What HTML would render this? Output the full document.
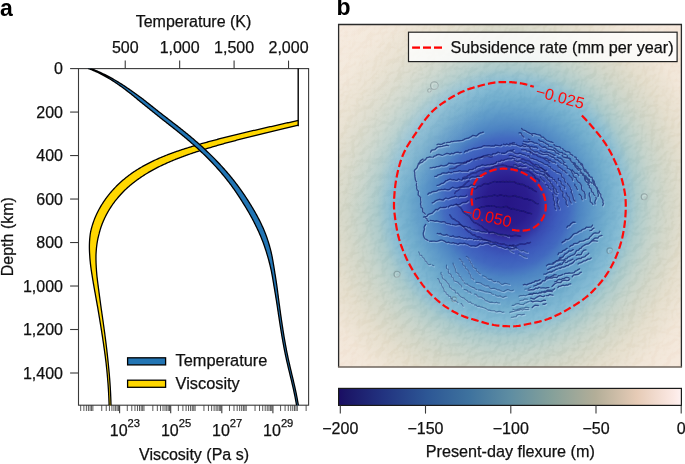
<!DOCTYPE html>
<html><head><meta charset="utf-8"><style>
html,body{margin:0;padding:0;background:#fff;}
svg{display:block;will-change:transform;}
</style></head><body>
<svg width="685" height="464" viewBox="0 0 685 464">
<rect width="685" height="464" fill="#fff"/>
<g stroke="#3a3a3a" stroke-width="1.1" fill="none">
<rect x="78.5" y="68.6" width="230.10000000000002" height="336.6"/>
<line x1="125.23" y1="68.6" x2="125.23" y2="60.599999999999994"/>
<line x1="179.66" y1="68.6" x2="179.66" y2="60.599999999999994"/>
<line x1="234.09" y1="68.6" x2="234.09" y2="60.599999999999994"/>
<line x1="288.52" y1="68.6" x2="288.52" y2="60.599999999999994"/>
<line x1="78.5" y1="68.58" x2="70.1" y2="68.58"/>
<line x1="78.5" y1="112.07" x2="70.1" y2="112.07"/>
<line x1="78.5" y1="155.56" x2="70.1" y2="155.56"/>
<line x1="78.5" y1="199.04" x2="70.1" y2="199.04"/>
<line x1="78.5" y1="242.53" x2="70.1" y2="242.53"/>
<line x1="78.5" y1="286.02" x2="70.1" y2="286.02"/>
<line x1="78.5" y1="329.51" x2="70.1" y2="329.51"/>
<line x1="78.5" y1="373" x2="70.1" y2="373"/>
<line x1="119.6" y1="405.2" x2="119.6" y2="413.2"/>
<line x1="170.7" y1="405.2" x2="170.7" y2="413.2"/>
<line x1="221.8" y1="405.2" x2="221.8" y2="413.2"/>
<line x1="272.9" y1="405.2" x2="272.9" y2="413.2"/>
</g>
<g stroke="#2e2e2e" stroke-width="0.8" fill="none">
<line x1="80.69" y1="405.2" x2="80.69" y2="411.0"/>
<line x1="83.88" y1="405.2" x2="83.88" y2="411.0"/>
<line x1="86.36" y1="405.2" x2="86.36" y2="411.0"/>
<line x1="88.38" y1="405.2" x2="88.38" y2="411.0"/>
<line x1="90.09" y1="405.2" x2="90.09" y2="411.0"/>
<line x1="91.57" y1="405.2" x2="91.57" y2="411.0"/>
<line x1="92.88" y1="405.2" x2="92.88" y2="411.0"/>
<line x1="101.74" y1="405.2" x2="101.74" y2="411.0"/>
<line x1="106.24" y1="405.2" x2="106.24" y2="411.0"/>
<line x1="109.43" y1="405.2" x2="109.43" y2="411.0"/>
<line x1="111.91" y1="405.2" x2="111.91" y2="411.0"/>
<line x1="113.93" y1="405.2" x2="113.93" y2="411.0"/>
<line x1="115.64" y1="405.2" x2="115.64" y2="411.0"/>
<line x1="117.12" y1="405.2" x2="117.12" y2="411.0"/>
<line x1="118.43" y1="405.2" x2="118.43" y2="411.0"/>
<line x1="127.29" y1="405.2" x2="127.29" y2="411.0"/>
<line x1="131.79" y1="405.2" x2="131.79" y2="411.0"/>
<line x1="134.98" y1="405.2" x2="134.98" y2="411.0"/>
<line x1="137.46" y1="405.2" x2="137.46" y2="411.0"/>
<line x1="139.48" y1="405.2" x2="139.48" y2="411.0"/>
<line x1="141.19" y1="405.2" x2="141.19" y2="411.0"/>
<line x1="142.67" y1="405.2" x2="142.67" y2="411.0"/>
<line x1="143.98" y1="405.2" x2="143.98" y2="411.0"/>
<line x1="152.84" y1="405.2" x2="152.84" y2="411.0"/>
<line x1="157.34" y1="405.2" x2="157.34" y2="411.0"/>
<line x1="160.53" y1="405.2" x2="160.53" y2="411.0"/>
<line x1="163.01" y1="405.2" x2="163.01" y2="411.0"/>
<line x1="165.03" y1="405.2" x2="165.03" y2="411.0"/>
<line x1="166.74" y1="405.2" x2="166.74" y2="411.0"/>
<line x1="168.22" y1="405.2" x2="168.22" y2="411.0"/>
<line x1="169.53" y1="405.2" x2="169.53" y2="411.0"/>
<line x1="178.39" y1="405.2" x2="178.39" y2="411.0"/>
<line x1="182.89" y1="405.2" x2="182.89" y2="411.0"/>
<line x1="186.08" y1="405.2" x2="186.08" y2="411.0"/>
<line x1="188.56" y1="405.2" x2="188.56" y2="411.0"/>
<line x1="190.58" y1="405.2" x2="190.58" y2="411.0"/>
<line x1="192.29" y1="405.2" x2="192.29" y2="411.0"/>
<line x1="193.77" y1="405.2" x2="193.77" y2="411.0"/>
<line x1="195.08" y1="405.2" x2="195.08" y2="411.0"/>
<line x1="203.94" y1="405.2" x2="203.94" y2="411.0"/>
<line x1="208.44" y1="405.2" x2="208.44" y2="411.0"/>
<line x1="211.63" y1="405.2" x2="211.63" y2="411.0"/>
<line x1="214.11" y1="405.2" x2="214.11" y2="411.0"/>
<line x1="216.13" y1="405.2" x2="216.13" y2="411.0"/>
<line x1="217.84" y1="405.2" x2="217.84" y2="411.0"/>
<line x1="219.32" y1="405.2" x2="219.32" y2="411.0"/>
<line x1="220.63" y1="405.2" x2="220.63" y2="411.0"/>
<line x1="229.49" y1="405.2" x2="229.49" y2="411.0"/>
<line x1="233.99" y1="405.2" x2="233.99" y2="411.0"/>
<line x1="237.18" y1="405.2" x2="237.18" y2="411.0"/>
<line x1="239.66" y1="405.2" x2="239.66" y2="411.0"/>
<line x1="241.68" y1="405.2" x2="241.68" y2="411.0"/>
<line x1="243.39" y1="405.2" x2="243.39" y2="411.0"/>
<line x1="244.87" y1="405.2" x2="244.87" y2="411.0"/>
<line x1="246.18" y1="405.2" x2="246.18" y2="411.0"/>
<line x1="255.04" y1="405.2" x2="255.04" y2="411.0"/>
<line x1="259.54" y1="405.2" x2="259.54" y2="411.0"/>
<line x1="262.73" y1="405.2" x2="262.73" y2="411.0"/>
<line x1="265.21" y1="405.2" x2="265.21" y2="411.0"/>
<line x1="267.23" y1="405.2" x2="267.23" y2="411.0"/>
<line x1="268.94" y1="405.2" x2="268.94" y2="411.0"/>
<line x1="270.42" y1="405.2" x2="270.42" y2="411.0"/>
<line x1="271.73" y1="405.2" x2="271.73" y2="411.0"/>
<line x1="280.59" y1="405.2" x2="280.59" y2="411.0"/>
<line x1="285.09" y1="405.2" x2="285.09" y2="411.0"/>
<line x1="288.28" y1="405.2" x2="288.28" y2="411.0"/>
<line x1="290.76" y1="405.2" x2="290.76" y2="411.0"/>
<line x1="292.78" y1="405.2" x2="292.78" y2="411.0"/>
<line x1="294.49" y1="405.2" x2="294.49" y2="411.0"/>
<line x1="295.97" y1="405.2" x2="295.97" y2="411.0"/>
<line x1="297.28" y1="405.2" x2="297.28" y2="411.0"/>
<line x1="306.14" y1="405.2" x2="306.14" y2="411.0"/>
</g>
<defs><clipPath id="axclip"><rect x="78.5" y="68.6" width="230.10000000000002" height="336.6"/></clipPath><clipPath id="visclip"><rect x="78.5" y="68.6" width="219.7" height="336.6"/></clipPath></defs>
<g clip-path="url(#axclip)" stroke="#000" stroke-width="1.3" stroke-linejoin="round">
<path clip-path="url(#visclip)" d="M301.6,119.6 L300.54,119.85 L299.48,120.09 L298.42,120.34 L297.36,120.58 L296.3,120.83 L295.24,121.07 L294.18,121.31 L293.13,121.55 L292.07,121.79 L291.02,122.03 L289.96,122.27 L288.91,122.51 L287.86,122.75 L286.81,122.98 L285.76,123.22 L284.72,123.46 L283.67,123.69 L282.62,123.93 L281.58,124.17 L280.54,124.4 L279.49,124.64 L278.45,124.87 L277.41,125.1 L276.37,125.34 L275.33,125.57 L274.29,125.81 L273.25,126.04 L272.22,126.27 L271.18,126.51 L270.14,126.74 L269.11,126.97 L268.07,127.21 L267.04,127.44 L266.01,127.67 L264.97,127.91 L263.94,128.14 L262.91,128.38 L261.88,128.61 L260.85,128.84 L259.82,129.08 L258.79,129.31 L257.76,129.55 L256.74,129.78 L255.71,130.02 L254.68,130.26 L253.65,130.49 L252.63,130.73 L251.6,130.97 L250.58,131.21 L249.55,131.45 L248.53,131.68 L247.5,131.92 L246.48,132.16 L245.45,132.41 L244.43,132.65 L243.4,132.89 L242.38,133.13 L241.36,133.38 L240.34,133.62 L239.31,133.87 L238.29,134.11 L237.27,134.36 L236.24,134.61 L235.22,134.86 L234.2,135.11 L233.18,135.36 L232.16,135.61 L231.13,135.87 L230.11,136.12 L229.09,136.38 L228.07,136.63 L227.04,136.89 L226.02,137.15 L225,137.41 L223.98,137.67 L222.95,137.93 L221.93,138.19 L220.9,138.45 L219.88,138.72 L218.86,138.98 L217.83,139.25 L216.81,139.52 L215.78,139.79 L214.76,140.06 L213.73,140.33 L212.71,140.61 L211.68,140.88 L210.65,141.16 L209.63,141.44 L208.6,141.72 L207.57,142 L206.54,142.29 L205.51,142.58 L204.49,142.86 L203.46,143.15 L202.43,143.45 L201.39,143.74 L200.36,144.04 L199.33,144.33 L198.3,144.63 L197.27,144.94 L196.23,145.24 L195.2,145.55 L194.16,145.85 L193.13,146.16 L192.09,146.48 L191.06,146.79 L190.02,147.11 L188.98,147.43 L187.95,147.75 L186.91,148.07 L185.87,148.4 L184.84,148.73 L183.8,149.06 L182.77,149.4 L181.73,149.74 L180.7,150.08 L179.66,150.43 L178.63,150.77 L177.6,151.13 L176.56,151.48 L175.53,151.84 L174.5,152.21 L173.48,152.57 L172.45,152.95 L171.42,153.32 L170.4,153.7 L169.38,154.08 L168.35,154.47 L167.33,154.86 L166.32,155.26 L165.3,155.66 L164.28,156.07 L163.27,156.48 L162.26,156.9 L161.26,157.32 L160.25,157.75 L159.25,158.19 L158.25,158.63 L157.26,159.07 L156.26,159.53 L155.27,159.98 L154.28,160.44 L153.3,160.91 L152.31,161.38 L151.33,161.86 L150.36,162.35 L149.38,162.84 L148.41,163.33 L147.44,163.83 L146.48,164.34 L145.52,164.86 L144.56,165.38 L143.61,165.9 L142.66,166.44 L141.71,166.98 L140.77,167.52 L139.83,168.07 L138.9,168.63 L137.97,169.2 L137.04,169.77 L136.12,170.35 L135.2,170.94 L134.29,171.54 L133.39,172.15 L132.5,172.77 L131.61,173.4 L130.72,174.03 L129.84,174.68 L128.97,175.33 L128.1,175.99 L127.23,176.65 L126.37,177.33 L125.52,178.01 L124.67,178.7 L123.83,179.4 L123,180.1 L122.17,180.82 L121.35,181.54 L120.53,182.28 L119.72,183.02 L118.92,183.77 L118.12,184.52 L117.33,185.29 L116.54,186.07 L115.77,186.85 L115,187.64 L114.24,188.45 L113.48,189.26 L112.73,190.07 L112,190.9 L111.27,191.73 L110.55,192.58 L109.84,193.43 L109.14,194.29 L108.44,195.16 L107.76,196.04 L107.09,196.92 L106.42,197.81 L105.77,198.71 L105.12,199.62 L104.48,200.53 L103.86,201.45 L103.24,202.37 L102.64,203.31 L102.04,204.25 L101.46,205.19 L100.88,206.14 L100.32,207.1 L99.76,208.07 L99.22,209.04 L98.69,210.01 L98.17,210.99 L97.67,211.98 L97.17,212.98 L96.69,213.98 L96.23,214.99 L95.78,216 L95.35,217.02 L94.92,218.05 L94.51,219.07 L94.11,220.11 L93.73,221.15 L93.36,222.19 L93,223.24 L92.65,224.29 L92.32,225.34 L92.01,226.4 L91.71,227.47 L91.42,228.53 L91.15,229.6 L90.89,230.68 L90.64,231.76 L90.45,232.84 L90.28,233.94 L90.13,235.03 L90,236.12 L89.88,237.21 L89.77,238.3 L89.68,239.39 L89.6,240.49 L89.53,241.58 L89.48,242.67 L89.44,243.76 L89.41,244.85 L89.4,245.94 L89.39,247.03 L89.4,248.12 L89.42,249.21 L89.45,250.3 L89.49,251.39 L89.54,252.48 L89.6,253.57 L89.67,254.66 L89.74,255.75 L89.81,256.83 L89.88,257.92 L89.97,259.01 L90.06,260.09 L90.17,261.18 L90.28,262.26 L90.39,263.35 L90.52,264.43 L90.65,265.52 L90.78,266.6 L90.93,267.68 L91.08,268.77 L91.23,269.85 L91.39,270.93 L91.55,272.01 L91.72,273.09 L91.89,274.17 L92.07,275.25 L92.25,276.32 L92.42,277.4 L92.59,278.48 L92.76,279.56 L92.94,280.63 L93.12,281.71 L93.3,282.78 L93.48,283.85 L93.66,284.93 L93.85,286 L94.04,287.07 L94.22,288.13 L94.41,289.2 L94.6,290.27 L94.79,291.33 L94.98,292.39 L95.17,293.45 L95.36,294.51 L95.55,295.57 L95.74,296.63 L95.93,297.69 L96.12,298.75 L96.31,299.8 L96.5,300.86 L96.69,301.91 L96.88,302.97 L97.07,304.02 L97.26,305.07 L97.45,306.12 L97.64,307.17 L97.83,308.22 L98.01,309.27 L98.18,310.32 L98.36,311.37 L98.53,312.42 L98.71,313.47 L98.88,314.52 L99.06,315.56 L99.23,316.61 L99.4,317.65 L99.58,318.7 L99.75,319.75 L99.92,320.79 L100.09,321.83 L100.26,322.88 L100.43,323.92 L100.6,324.96 L100.77,326.01 L100.94,327.05 L101.1,328.09 L101.27,329.13 L101.43,330.18 L101.6,331.22 L101.76,332.26 L101.92,333.3 L102.09,334.34 L102.25,335.38 L102.41,336.42 L102.56,337.46 L102.72,338.5 L102.88,339.54 L103.03,340.58 L103.19,341.62 L103.34,342.66 L103.49,343.7 L103.64,344.75 L103.79,345.79 L103.94,346.83 L104.09,347.87 L104.24,348.91 L104.38,349.95 L104.52,350.99 L104.67,352.03 L104.81,353.07 L104.95,354.12 L105.08,355.16 L105.22,356.2 L105.35,357.24 L105.49,358.29 L105.62,359.33 L105.75,360.38 L105.88,361.42 L106,362.47 L106.13,363.51 L106.25,364.56 L106.36,365.6 L106.47,366.65 L106.58,367.7 L106.69,368.75 L106.8,369.8 L106.9,370.85 L107,371.9 L107.1,372.95 L107.2,374 L107.3,375.06 L107.39,376.11 L107.48,377.16 L107.58,378.22 L107.66,379.27 L107.75,380.33 L107.83,381.39 L107.92,382.45 L108,383.51 L108.07,384.56 L108.15,385.63 L108.22,386.69 L108.29,387.75 L108.36,388.81 L108.43,389.88 L108.49,390.94 L108.55,392.01 L108.61,393.08 L108.67,394.15 L108.72,395.22 L108.77,396.29 L108.82,397.36 L108.87,398.43 L108.91,399.51 L108.95,400.58 L108.99,401.66 L109.03,402.74 L109.06,403.81 L109.09,404.89 L109.12,405.98 L109.14,407.06 L109.16,408.14 L111.06,408.11 L111.04,407.02 L111.02,405.93 L110.99,404.85 L110.97,403.76 L110.94,402.68 L110.91,401.6 L110.88,400.51 L110.84,399.43 L110.8,398.35 L110.76,397.28 L110.71,396.2 L110.67,395.12 L110.62,394.05 L110.57,392.98 L110.51,391.9 L110.46,390.83 L110.4,389.76 L110.34,388.69 L110.27,387.62 L110.21,386.56 L110.14,385.49 L110.07,384.43 L110,383.36 L109.92,382.3 L109.84,381.24 L109.76,380.17 L109.68,379.11 L109.6,378.05 L109.51,376.99 L109.43,375.93 L109.34,374.88 L109.25,373.82 L109.15,372.76 L109.06,371.71 L108.96,370.65 L108.86,369.6 L108.76,368.54 L108.65,367.49 L108.55,366.44 L108.44,365.39 L108.34,364.34 L108.23,363.28 L108.13,362.23 L108.02,361.18 L107.92,360.13 L107.81,359.08 L107.7,358.03 L107.59,356.98 L107.47,355.93 L107.36,354.88 L107.24,353.84 L107.13,352.79 L107.01,351.74 L106.89,350.69 L106.77,349.65 L106.64,348.6 L106.52,347.55 L106.39,346.5 L106.27,345.46 L106.14,344.41 L106.01,343.37 L105.88,342.32 L105.75,341.27 L105.62,340.23 L105.48,339.18 L105.35,338.13 L105.21,337.09 L105.07,336.04 L104.94,335 L104.8,333.95 L104.66,332.9 L104.52,331.86 L104.37,330.81 L104.23,329.76 L104.09,328.72 L103.95,327.67 L103.8,326.62 L103.65,325.57 L103.51,324.53 L103.36,323.48 L103.21,322.43 L103.06,321.38 L102.92,320.33 L102.77,319.28 L102.62,318.23 L102.47,317.18 L102.31,316.13 L102.16,315.08 L102.01,314.03 L101.86,312.98 L101.71,311.92 L101.55,310.87 L101.4,309.82 L101.24,308.76 L101.09,307.71 L100.95,306.65 L100.81,305.59 L100.66,304.53 L100.52,303.47 L100.38,302.41 L100.23,301.35 L100.09,300.29 L99.95,299.23 L99.8,298.17 L99.66,297.1 L99.51,296.04 L99.37,294.97 L99.23,293.91 L99.08,292.84 L98.94,291.77 L98.8,290.7 L98.66,289.63 L98.51,288.56 L98.37,287.49 L98.23,286.42 L98.09,285.35 L97.95,284.28 L97.81,283.21 L97.67,282.14 L97.54,281.06 L97.41,279.99 L97.28,278.92 L97.15,277.85 L97.03,276.78 L96.91,275.71 L96.81,274.64 L96.72,273.57 L96.63,272.5 L96.55,271.43 L96.46,270.36 L96.39,269.3 L96.32,268.23 L96.26,267.17 L96.2,266.11 L96.14,265.05 L96.1,263.99 L96.06,262.93 L96.03,261.88 L96,260.83 L95.98,259.78 L95.97,258.73 L95.97,257.69 L95.97,256.64 L95.98,255.6 L96.01,254.57 L96.06,253.53 L96.11,252.5 L96.18,251.47 L96.25,250.45 L96.34,249.43 L96.43,248.41 L96.53,247.4 L96.65,246.39 L96.77,245.38 L96.91,244.38 L97.05,243.39 L97.21,242.39 L97.38,241.41 L97.56,240.42 L97.75,239.45 L97.95,238.47 L98.17,237.5 L98.39,236.54 L98.63,235.58 L98.88,234.63 L99.14,233.68 L99.37,232.72 L99.61,231.77 L99.87,230.82 L100.14,229.87 L100.43,228.92 L100.73,227.98 L101.04,227.04 L101.36,226.1 L101.69,225.17 L102.04,224.24 L102.4,223.31 L102.78,222.39 L103.16,221.47 L103.56,220.55 L103.96,219.64 L104.38,218.73 L104.81,217.83 L105.26,216.93 L105.7,216.03 L106.15,215.13 L106.62,214.24 L107.1,213.35 L107.59,212.47 L108.08,211.59 L108.59,210.72 L109.11,209.85 L109.64,208.99 L110.18,208.13 L110.73,207.28 L111.29,206.43 L111.86,205.59 L112.43,204.75 L113.02,203.92 L113.62,203.1 L114.22,202.28 L114.83,201.47 L115.46,200.67 L116.09,199.87 L116.73,199.08 L117.37,198.29 L118.03,197.51 L118.69,196.73 L119.35,195.97 L120.03,195.21 L120.71,194.45 L121.4,193.71 L122.09,192.97 L122.8,192.24 L123.51,191.51 L124.22,190.8 L124.95,190.09 L125.68,189.39 L126.42,188.69 L127.16,188.01 L127.91,187.33 L128.67,186.66 L129.43,185.99 L130.21,185.34 L130.98,184.69 L131.77,184.04 L132.56,183.41 L133.35,182.78 L134.15,182.15 L134.96,181.54 L135.77,180.93 L136.59,180.33 L137.42,179.73 L138.25,179.14 L139.09,178.55 L139.92,177.97 L140.76,177.38 L141.61,176.81 L142.46,176.24 L143.32,175.67 L144.18,175.11 L145.04,174.56 L145.92,174.02 L146.79,173.47 L147.68,172.94 L148.56,172.41 L149.46,171.89 L150.35,171.37 L151.25,170.86 L152.16,170.35 L153.07,169.85 L153.99,169.35 L154.9,168.86 L155.83,168.38 L156.76,167.89 L157.69,167.42 L158.62,166.95 L159.56,166.48 L160.5,166.02 L161.45,165.57 L162.4,165.12 L163.35,164.67 L164.31,164.23 L165.27,163.79 L166.23,163.36 L167.19,162.92 L168.16,162.49 L169.13,162.07 L170.1,161.65 L171.08,161.23 L172.06,160.82 L173.04,160.41 L174.02,160 L175,159.6 L175.99,159.2 L176.98,158.81 L177.97,158.42 L178.96,158.03 L179.96,157.65 L180.96,157.27 L181.96,156.9 L182.96,156.53 L183.96,156.16 L184.96,155.79 L185.97,155.43 L186.97,155.07 L187.98,154.71 L188.99,154.36 L190,154.01 L191.01,153.66 L192.02,153.32 L193.03,152.98 L194.05,152.64 L195.06,152.31 L196.07,151.98 L197.09,151.65 L198.1,151.32 L199.12,151 L200.13,150.67 L201.15,150.35 L202.16,150.03 L203.18,149.72 L204.19,149.4 L205.21,149.09 L206.22,148.78 L207.23,148.47 L208.25,148.17 L209.26,147.86 L210.27,147.56 L211.28,147.26 L212.29,146.96 L213.31,146.66 L214.32,146.36 L215.33,146.07 L216.34,145.78 L217.35,145.49 L218.36,145.2 L219.38,144.91 L220.39,144.62 L221.4,144.34 L222.41,144.05 L223.42,143.77 L224.43,143.49 L225.44,143.21 L226.45,142.93 L227.47,142.66 L228.48,142.39 L229.49,142.11 L230.5,141.84 L231.51,141.57 L232.53,141.31 L233.54,141.04 L234.55,140.77 L235.57,140.51 L236.58,140.24 L237.59,139.98 L238.61,139.72 L239.62,139.46 L240.64,139.2 L241.65,138.94 L242.67,138.68 L243.68,138.42 L244.7,138.17 L245.71,137.91 L246.73,137.65 L247.75,137.4 L248.76,137.15 L249.78,136.89 L250.8,136.64 L251.82,136.39 L252.84,136.14 L253.86,135.88 L254.88,135.63 L255.9,135.38 L256.92,135.13 L257.94,134.88 L258.96,134.63 L259.99,134.39 L261.01,134.14 L262.04,133.89 L263.06,133.64 L264.09,133.39 L265.11,133.15 L266.14,132.9 L267.17,132.65 L268.2,132.4 L269.23,132.16 L270.26,131.91 L271.29,131.66 L272.32,131.41 L273.35,131.17 L274.39,130.92 L275.42,130.67 L276.46,130.42 L277.49,130.18 L278.53,129.93 L279.57,129.68 L280.61,129.43 L281.65,129.18 L282.69,128.93 L283.73,128.68 L284.77,128.43 L285.82,128.18 L286.86,127.93 L287.91,127.68 L288.96,127.43 L290,127.17 L291.05,126.92 L292.1,126.67 L293.16,126.41 L294.21,126.16 L295.26,125.9 L296.32,125.64 L297.38,125.39 L298.43,125.13 L299.49,124.87 L300.55,124.61 L301.61,124.35 L302.68,124.09Z" fill="#FFD700"/>
<line x1="298.2" y1="68" x2="298.2" y2="126.2" stroke-width="1.4"/>
<path d="M88.55,68.58 L89.55,68.94 L90.54,69.32 L91.53,69.72 L92.51,70.12 L93.48,70.53 L94.45,70.95 L95.42,71.38 L96.38,71.82 L97.34,72.26 L98.29,72.71 L99.23,73.18 L100.18,73.64 L101.11,74.12 L102.05,74.6 L102.97,75.09 L103.9,75.59 L104.82,76.09 L105.73,76.6 L106.65,77.12 L107.56,77.65 L108.46,78.18 L109.36,78.71 L110.26,79.26 L111.15,79.81 L112.04,80.36 L112.92,80.92 L113.81,81.49 L114.68,82.07 L115.56,82.65 L116.43,83.23 L117.3,83.82 L118.16,84.42 L119.03,85.02 L119.89,85.62 L120.74,86.23 L121.6,86.84 L122.45,87.46 L123.3,88.08 L124.14,88.71 L124.99,89.34 L125.83,89.97 L126.67,90.61 L127.5,91.25 L128.34,91.9 L129.17,92.55 L130,93.21 L130.83,93.86 L131.65,94.52 L132.48,95.18 L133.3,95.85 L134.12,96.52 L134.94,97.19 L135.76,97.86 L136.57,98.53 L137.39,99.21 L138.2,99.89 L139.02,100.57 L139.83,101.25 L140.66,101.92 L141.49,102.58 L142.31,103.25 L143.14,103.91 L143.97,104.58 L144.79,105.25 L145.62,105.91 L146.45,106.58 L147.27,107.25 L148.1,107.92 L148.93,108.59 L149.75,109.26 L150.58,109.93 L151.4,110.6 L152.23,111.27 L153.06,111.94 L153.89,112.61 L154.71,113.28 L155.54,113.95 L156.37,114.61 L157.2,115.28 L158.03,115.94 L158.86,116.61 L159.7,117.27 L160.53,117.93 L161.36,118.59 L162.19,119.25 L163.03,119.9 L163.86,120.56 L164.7,121.21 L165.53,121.86 L166.36,122.52 L167.2,123.17 L168.03,123.82 L168.86,124.47 L169.69,125.12 L170.52,125.77 L171.35,126.43 L172.18,127.08 L173.01,127.73 L173.84,128.38 L174.67,129.04 L175.49,129.69 L176.32,130.35 L177.14,131.01 L177.96,131.67 L178.78,132.33 L179.6,132.99 L180.42,133.66 L181.24,134.32 L182.05,134.99 L182.86,135.66 L183.68,136.33 L184.49,137.01 L185.29,137.69 L186.1,138.37 L186.9,139.05 L187.71,139.73 L188.51,140.41 L189.31,141.1 L190.11,141.79 L190.9,142.48 L191.69,143.18 L192.49,143.87 L193.27,144.57 L194.06,145.27 L194.85,145.98 L195.63,146.68 L196.41,147.39 L197.19,148.1 L197.96,148.81 L198.74,149.53 L199.51,150.24 L200.28,150.96 L201.04,151.68 L201.81,152.41 L202.57,153.13 L203.33,153.86 L204.08,154.59 L204.84,155.33 L205.59,156.06 L206.34,156.8 L207.08,157.54 L207.82,158.29 L208.56,159.03 L209.3,159.78 L210.03,160.53 L210.77,161.29 L211.49,162.04 L212.22,162.8 L212.94,163.56 L213.66,164.33 L214.38,165.09 L215.09,165.86 L215.8,166.63 L216.5,167.41 L217.21,168.19 L217.91,168.97 L218.6,169.75 L219.29,170.54 L219.98,171.33 L220.66,172.13 L221.34,172.93 L222.01,173.73 L222.69,174.53 L223.36,175.33 L224.02,176.14 L224.68,176.95 L225.34,177.77 L226,178.59 L226.65,179.4 L227.29,180.23 L227.94,181.05 L228.58,181.88 L229.21,182.71 L229.84,183.55 L230.47,184.39 L231.1,185.23 L231.72,186.07 L232.33,186.92 L232.94,187.77 L233.55,188.62 L234.16,189.48 L234.76,190.34 L235.36,191.2 L235.95,192.06 L236.54,192.93 L237.13,193.8 L237.71,194.67 L238.29,195.55 L238.87,196.43 L239.44,197.31 L240.02,198.19 L240.58,199.08 L241.15,199.97 L241.71,200.86 L242.27,201.75 L242.84,202.64 L243.4,203.53 L243.95,204.42 L244.51,205.32 L245.06,206.21 L245.61,207.11 L246.15,208.01 L246.69,208.91 L247.23,209.82 L247.76,210.72 L248.29,211.63 L248.82,212.54 L249.34,213.45 L249.85,214.36 L250.37,215.28 L250.87,216.19 L251.38,217.11 L251.87,218.03 L252.37,218.95 L252.85,219.88 L253.34,220.8 L253.82,221.73 L254.29,222.66 L254.76,223.59 L255.22,224.53 L255.67,225.47 L256.13,226.4 L256.59,227.33 L257.04,228.27 L257.49,229.21 L257.94,230.15 L258.38,231.09 L258.81,232.03 L259.24,232.98 L259.66,233.93 L260.07,234.88 L260.48,235.83 L260.88,236.79 L261.27,237.75 L261.66,238.71 L262.04,239.68 L262.41,240.64 L262.79,241.61 L263.16,242.58 L263.52,243.55 L263.87,244.52 L264.22,245.5 L264.56,246.48 L264.89,247.46 L265.22,248.45 L265.54,249.43 L265.85,250.43 L266.16,251.42 L266.46,252.42 L266.76,253.41 L267.05,254.42 L267.35,255.42 L267.65,256.42 L267.95,257.42 L268.23,258.43 L268.52,259.44 L268.8,260.45 L269.07,261.46 L269.34,262.48 L269.61,263.5 L269.87,264.52 L270.11,265.54 L270.35,266.57 L270.59,267.6 L270.82,268.63 L271.05,269.66 L271.27,270.69 L271.49,271.72 L271.7,272.76 L271.89,273.8 L272.08,274.84 L272.27,275.88 L272.45,276.93 L272.63,277.97 L272.81,279.01 L272.99,280.06 L273.17,281.1 L273.34,282.15 L273.51,283.2 L273.69,284.24 L273.86,285.29 L274.04,286.34 L274.22,287.38 L274.39,288.43 L274.57,289.47 L274.74,290.52 L274.92,291.57 L275.09,292.61 L275.27,293.66 L275.44,294.71 L275.61,295.75 L275.78,296.8 L275.95,297.85 L276.12,298.89 L276.29,299.94 L276.46,300.99 L276.63,302.03 L276.79,303.08 L276.95,304.13 L277.11,305.18 L277.26,306.23 L277.42,307.27 L277.58,308.32 L277.73,309.37 L277.89,310.42 L278.05,311.47 L278.21,312.51 L278.36,313.56 L278.52,314.61 L278.68,315.66 L278.84,316.71 L279,317.75 L279.16,318.8 L279.33,319.85 L279.48,320.89 L279.64,321.94 L279.8,322.99 L279.97,324.04 L280.13,325.08 L280.29,326.13 L280.46,327.18 L280.62,328.22 L280.79,329.27 L280.96,330.32 L281.13,331.36 L281.3,332.41 L281.47,333.45 L281.64,334.5 L281.82,335.54 L281.99,336.59 L282.17,337.63 L282.35,338.68 L282.54,339.72 L282.72,340.76 L282.91,341.81 L283.09,342.85 L283.28,343.89 L283.48,344.94 L283.67,345.98 L283.87,347.02 L284.07,348.06 L284.27,349.1 L284.47,350.14 L284.68,351.18 L284.89,352.22 L285.1,353.26 L285.31,354.3 L285.53,355.34 L285.75,356.38 L285.97,357.42 L286.19,358.46 L286.42,359.49 L286.65,360.53 L286.88,361.57 L287.12,362.6 L287.36,363.64 L287.6,364.67 L287.84,365.71 L288.08,366.74 L288.33,367.78 L288.57,368.81 L288.82,369.84 L289.07,370.87 L289.32,371.91 L289.56,372.94 L289.81,373.97 L290.06,375 L290.31,376.03 L290.56,377.07 L290.81,378.1 L291.06,379.13 L291.31,380.16 L291.55,381.19 L291.8,382.22 L292.04,383.26 L292.28,384.29 L292.52,385.32 L292.76,386.35 L292.99,387.38 L293.23,388.42 L293.46,389.45 L293.69,390.48 L293.91,391.52 L294.13,392.55 L294.35,393.59 L294.57,394.62 L294.78,395.66 L294.99,396.69 L295.19,397.73 L295.39,398.77 L295.58,399.81 L295.77,400.84 L295.96,401.88 L296.14,402.92 L296.31,403.96 L296.48,405.01 L296.64,406.05 L296.8,407.09 L296.95,408.14 L298.73,407.89 L298.58,406.83 L298.42,405.78 L298.26,404.72 L298.09,403.67 L297.92,402.62 L297.74,401.57 L297.56,400.52 L297.37,399.48 L297.18,398.43 L296.98,397.39 L296.78,396.34 L296.58,395.3 L296.37,394.25 L296.16,393.21 L295.94,392.17 L295.72,391.13 L295.5,390.09 L295.27,389.05 L295.04,388.01 L294.81,386.98 L294.58,385.94 L294.34,384.9 L294.11,383.86 L293.87,382.83 L293.63,381.79 L293.39,380.76 L293.14,379.72 L292.9,378.69 L292.65,377.66 L292.41,376.62 L292.16,375.59 L291.92,374.56 L291.67,373.53 L291.43,372.49 L291.18,371.46 L290.94,370.43 L290.69,369.4 L290.45,368.36 L290.21,367.33 L289.97,366.3 L289.73,365.27 L289.49,364.24 L289.25,363.2 L289.02,362.17 L288.79,361.14 L288.56,360.11 L288.34,359.07 L288.11,358.04 L287.89,357.01 L287.68,355.97 L287.46,354.94 L287.25,353.9 L287.04,352.87 L286.83,351.83 L286.63,350.8 L286.43,349.76 L286.23,348.72 L286.03,347.69 L285.84,346.65 L285.65,345.61 L285.46,344.57 L285.27,343.53 L285.08,342.49 L284.9,341.45 L284.72,340.41 L284.54,339.37 L284.36,338.33 L284.18,337.29 L284.01,336.25 L283.84,335.21 L283.66,334.16 L283.49,333.12 L283.33,332.08 L283.16,331.03 L282.99,329.99 L282.83,328.95 L282.67,327.9 L282.51,326.86 L282.35,325.81 L282.19,324.77 L282.03,323.72 L281.87,322.68 L281.71,321.63 L281.56,320.58 L281.41,319.54 L281.26,318.49 L281.11,317.44 L280.96,316.39 L280.81,315.35 L280.66,314.3 L280.52,313.25 L280.37,312.2 L280.22,311.15 L280.08,310.1 L279.93,309.05 L279.79,308 L279.64,306.95 L279.5,305.9 L279.35,304.85 L279.2,303.8 L279.06,302.75 L278.92,301.7 L278.78,300.65 L278.65,299.6 L278.52,298.55 L278.38,297.49 L278.25,296.44 L278.11,295.39 L277.98,294.33 L277.84,293.28 L277.7,292.23 L277.57,291.17 L277.43,290.12 L277.29,289.07 L277.15,288.01 L277.01,286.96 L276.86,285.9 L276.72,284.85 L276.57,283.8 L276.41,282.74 L276.25,281.69 L276.09,280.64 L275.93,279.58 L275.77,278.53 L275.61,277.48 L275.44,276.43 L275.27,275.37 L275.1,274.32 L274.92,273.27 L274.75,272.22 L274.58,271.16 L274.42,270.11 L274.26,269.05 L274.09,268 L273.92,266.95 L273.74,265.89 L273.57,264.84 L273.38,263.79 L273.21,262.73 L273.03,261.68 L272.85,260.63 L272.66,259.58 L272.47,258.52 L272.27,257.47 L272.06,256.42 L271.85,255.37 L271.64,254.33 L271.41,253.28 L271.17,252.24 L270.91,251.2 L270.65,250.16 L270.38,249.13 L270.11,248.09 L269.83,247.06 L269.54,246.03 L269.24,245 L268.94,243.97 L268.63,242.94 L268.31,241.91 L267.98,240.89 L267.65,239.87 L267.31,238.86 L266.95,237.84 L266.59,236.83 L266.22,235.83 L265.84,234.82 L265.46,233.82 L265.07,232.82 L264.67,231.82 L264.26,230.83 L263.85,229.84 L263.44,228.85 L263.01,227.86 L262.58,226.87 L262.15,225.89 L261.71,224.91 L261.26,223.94 L260.79,222.97 L260.31,222.01 L259.83,221.05 L259.34,220.09 L258.85,219.14 L258.35,218.18 L257.85,217.23 L257.34,216.29 L256.83,215.34 L256.31,214.4 L255.78,213.47 L255.26,212.53 L254.73,211.6 L254.19,210.67 L253.65,209.74 L253.11,208.81 L252.56,207.89 L252.01,206.97 L251.46,206.05 L250.9,205.13 L250.34,204.22 L249.77,203.31 L249.2,202.4 L248.63,201.49 L248.06,200.58 L247.48,199.68 L246.9,198.78 L246.32,197.88 L245.72,196.99 L245.13,196.1 L244.53,195.21 L243.93,194.32 L243.32,193.44 L242.71,192.56 L242.1,191.68 L241.49,190.8 L240.87,189.93 L240.24,189.05 L239.62,188.19 L238.99,187.32 L238.35,186.45 L237.72,185.59 L237.08,184.74 L236.43,183.88 L235.78,183.03 L235.13,182.18 L234.47,181.33 L233.81,180.49 L233.15,179.65 L232.48,178.82 L231.81,177.98 L231.13,177.15 L230.46,176.33 L229.77,175.51 L229.09,174.69 L228.4,173.87 L227.71,173.06 L227.01,172.25 L226.31,171.44 L225.61,170.64 L224.9,169.83 L224.2,169.04 L223.48,168.24 L222.77,167.45 L222.05,166.66 L221.33,165.88 L220.6,165.09 L219.88,164.31 L219.15,163.53 L218.42,162.75 L217.69,161.98 L216.95,161.21 L216.21,160.44 L215.47,159.67 L214.73,158.91 L213.98,158.15 L213.23,157.39 L212.47,156.63 L211.72,155.88 L210.96,155.13 L210.2,154.39 L209.43,153.64 L208.67,152.9 L207.9,152.16 L207.13,151.43 L206.35,150.69 L205.58,149.96 L204.8,149.23 L204.01,148.51 L203.23,147.78 L202.44,147.06 L201.66,146.34 L200.87,145.63 L200.07,144.92 L199.28,144.2 L198.48,143.5 L197.68,142.79 L196.88,142.09 L196.08,141.39 L195.27,140.69 L194.46,139.99 L193.65,139.3 L192.84,138.6 L192.03,137.91 L191.22,137.23 L190.4,136.54 L189.58,135.86 L188.76,135.18 L187.94,134.5 L187.12,133.83 L186.3,133.15 L185.47,132.48 L184.64,131.81 L183.81,131.15 L182.98,130.48 L182.15,129.82 L181.32,129.16 L180.49,128.5 L179.65,127.84 L178.82,127.19 L177.98,126.53 L177.15,125.88 L176.31,125.23 L175.47,124.58 L174.63,123.94 L173.79,123.29 L172.96,122.64 L172.12,122 L171.28,121.35 L170.44,120.71 L169.6,120.07 L168.76,119.42 L167.92,118.78 L167.08,118.13 L166.25,117.49 L165.41,116.84 L164.57,116.2 L163.74,115.55 L162.9,114.9 L162.07,114.25 L161.23,113.6 L160.4,112.95 L159.57,112.3 L158.73,111.64 L157.9,110.99 L157.07,110.33 L156.24,109.67 L155.41,109.01 L154.58,108.35 L153.74,107.69 L152.91,107.03 L152.08,106.37 L151.25,105.7 L150.41,105.04 L149.58,104.38 L148.75,103.72 L147.91,103.05 L147.08,102.39 L146.24,101.73 L145.41,101.07 L144.57,100.41 L143.73,99.75 L142.9,99.09 L142.05,98.44 L141.19,97.8 L140.33,97.17 L139.47,96.54 L138.61,95.91 L137.75,95.28 L136.89,94.66 L136.02,94.03 L135.15,93.41 L134.29,92.79 L133.42,92.18 L132.55,91.56 L131.67,90.95 L130.8,90.34 L129.92,89.74 L129.05,89.14 L128.17,88.53 L127.29,87.94 L126.41,87.34 L125.52,86.75 L124.64,86.16 L123.75,85.58 L122.86,85 L121.96,84.42 L121.07,83.85 L120.17,83.29 L119.27,82.73 L118.37,82.17 L117.46,81.62 L116.56,81.07 L115.65,80.53 L114.73,79.99 L113.82,79.46 L112.9,78.93 L111.98,78.4 L111.06,77.89 L110.13,77.37 L109.2,76.87 L108.27,76.37 L107.33,75.88 L106.39,75.39 L105.45,74.91 L104.5,74.43 L103.55,73.97 L102.59,73.5 L101.64,73.05 L100.67,72.6 L99.71,72.16 L98.74,71.73 L97.77,71.31 L96.79,70.89 L95.81,70.48 L94.82,70.08 L93.83,69.68 L92.84,69.3 L91.84,68.92 L90.84,68.55 L89.83,68.19 L88.82,67.82Z" fill="#2275B4"/>
</g>
<g stroke="#000" stroke-width="1.3">
<rect x="127.6" y="357.8" width="38" height="7.1" fill="#2275B4"/>
<rect x="127.6" y="380.2" width="38" height="7.1" fill="#FFD700"/>
</g>
<g font-family="Liberation Sans, sans-serif" font-size="16" fill="#111" stroke="#111" stroke-width="0.25">
<text x="175.6" y="366.2" font-size="16.35">Temperature</text>
<text x="175.6" y="388.8" font-size="16.35">Viscosity</text>
<text x="193.5" y="26.5" text-anchor="middle">Temperature (K)</text>
<text x="125.23" y="52.8" text-anchor="middle">500</text>
<text x="179.66" y="52.8" text-anchor="middle">1,000</text>
<text x="234.09" y="52.8" text-anchor="middle">1,500</text>
<text x="288.52" y="52.8" text-anchor="middle">2,000</text>
<text x="63" y="74.38" text-anchor="end">0</text>
<text x="63" y="117.87" text-anchor="end">200</text>
<text x="63" y="161.36" text-anchor="end">400</text>
<text x="63" y="204.84" text-anchor="end">600</text>
<text x="63" y="248.33" text-anchor="end">800</text>
<text x="63" y="291.82" text-anchor="end">1,000</text>
<text x="63" y="335.31" text-anchor="end">1,200</text>
<text x="63" y="378.8" text-anchor="end">1,400</text>
<text x="109.8" y="435.6">10<tspan font-size="11.2" dy="-8.2">23</tspan></text>
<text x="160.9" y="435.6">10<tspan font-size="11.2" dy="-8.2">25</tspan></text>
<text x="212" y="435.6">10<tspan font-size="11.2" dy="-8.2">27</tspan></text>
<text x="263.1" y="435.6">10<tspan font-size="11.2" dy="-8.2">29</tspan></text>
<text x="194" y="460.4" text-anchor="middle">Viscosity (Pa s)</text>
<text transform="translate(13.2,236.7) rotate(-90)" text-anchor="middle">Depth (km)</text>
</g>
<text x="0" y="15.8" font-family="Liberation Sans, sans-serif" font-weight="bold" font-size="23" fill="#000">a</text>
<text x="336.5" y="15.4" font-family="Liberation Sans, sans-serif" font-weight="bold" font-size="23" fill="#000">b</text>
<defs>
<radialGradient id="flex" gradientUnits="userSpaceOnUse" cx="507" cy="203" r="245.0" gradientTransform="translate(507 203) scale(1 1.04) translate(-507 -203)">
<stop offset="0.0000" stop-color="#261585"/>
<stop offset="0.0898" stop-color="#2A1C8E"/>
<stop offset="0.1306" stop-color="#30299A"/>
<stop offset="0.1714" stop-color="#3849B2"/>
<stop offset="0.2122" stop-color="#3D5BBC"/>
<stop offset="0.2531" stop-color="#4269C0"/>
<stop offset="0.2939" stop-color="#4C83C3"/>
<stop offset="0.3510" stop-color="#5E9AC9"/>
<stop offset="0.4082" stop-color="#71ADCD"/>
<stop offset="0.4694" stop-color="#86BCD4"/>
<stop offset="0.5306" stop-color="#ABCACB"/>
<stop offset="0.5918" stop-color="#C4D3CB"/>
<stop offset="0.6531" stop-color="#D3D7C9"/>
<stop offset="0.7347" stop-color="#E4DECD"/>
<stop offset="0.8367" stop-color="#F1E6D8"/>
<stop offset="1.0000" stop-color="#F8EADF"/>
</radialGradient>
<clipPath id="mapclip"><rect x="338.6" y="24.5" width="342.79999999999995" height="342.5"/></clipPath>
</defs>
<g clip-path="url(#mapclip)">
<rect x="338.6" y="24.5" width="342.79999999999995" height="342.5" fill="url(#flex)"/>
<defs><radialGradient id="ulight" gradientUnits="userSpaceOnUse" cx="345" cy="60" r="150"><stop offset="0" stop-color="#F6EDE2" stop-opacity="0.4"/><stop offset="0.6" stop-color="#F4EBDF" stop-opacity="0.2"/><stop offset="1" stop-color="#F4EBDF" stop-opacity="0"/></radialGradient><filter id="hs" x="0" y="0" width="1" height="1" color-interpolation-filters="sRGB"><feTurbulence type="fractalNoise" baseFrequency="0.13" numOctaves="3" seed="5" result="n"/><feColorMatrix in="n" type="matrix" values="0 0 0 0 0  0 0 0 0 0  0 0 0 0 0  1 0 0 0 0" result="a0"/><feGaussianBlur in="a0" stdDeviation="0.6" result="a"/><feDiffuseLighting in="a" surfaceScale="4" diffuseConstant="1.0" lighting-color="#fff" result="l"><feDistantLight azimuth="225" elevation="50"/></feDiffuseLighting><feComponentTransfer><feFuncR type="linear" slope="1.2" intercept="-0.419"/><feFuncG type="linear" slope="1.2" intercept="-0.419"/><feFuncB type="linear" slope="1.2" intercept="-0.419"/></feComponentTransfer></filter><radialGradient id="hsmask_g" gradientUnits="userSpaceOnUse" cx="507" cy="203" r="200"><stop offset="0" stop-color="#fff" stop-opacity="0.05"/><stop offset="0.4" stop-color="#fff" stop-opacity="0.1"/><stop offset="0.62" stop-color="#fff" stop-opacity="0.6"/><stop offset="0.8" stop-color="#fff" stop-opacity="1"/><stop offset="1" stop-color="#fff" stop-opacity="1"/></radialGradient><mask id="hsmask" maskUnits="userSpaceOnUse" x="338" y="24" width="344" height="343"><rect x="338" y="24" width="344" height="343" fill="url(#hsmask_g)"/></mask></defs>
<rect x="338.6" y="24.5" width="342.79999999999995" height="342.5" fill="url(#ulight)"/>
<g mask="url(#hsmask)" style="mix-blend-mode:soft-light" opacity="0.17"><rect x="338.6" y="24.5" width="342.79999999999995" height="342.5" filter="url(#hs)"/></g>
<defs><filter id="tblur" x="-5%" y="-5%" width="110%" height="110%"><feGaussianBlur stdDeviation="0.35"/></filter></defs>
<g fill="none" stroke-linecap="round" stroke-linejoin="round" filter="url(#tblur)">
<path stroke="#CFE6FF" stroke-opacity="0.35" stroke-width="1.4" d="M419.77,165.25 L420.89,164.09 L422.51,163.55 L423.71,162.5 L424.87,161.4 L426.32,160.72 L427.2,159.07 L428.77,158.57 L430.24,157.89 L432.05,158.31 M433.69,158.4 L435.04,157.2 L436.57,156.73 L438.01,155.74 L439.62,155.58 L441.32,156.08 L442.99,156.45 M444.51,155.84 L446.03,155.12 L447.57,154.41 L449.21,154.7 L450.86,155.41 L452.39,154.37 L454.03,154.89 L455.57,153.81 L457.15,153.44 L458.73,153.23 L460.37,153.87 L461.92,153.5 M465.09,153.27 L466.32,152.1 L468.06,152.12 L469.37,150.96 L471.03,150.82 L472.51,150.15 L474.01,149.51 L475.67,149.56 L477.24,149.28 L478.78,148.84 L480.33,148.47 L481.94,148.28 L483.35,147.36 L484.86,146.73 L486.58,146.99 L488.23,147.06 L489.81,146.84 M489.81,146.84 L491.47,147.22 L493.04,146.97 L494.67,147.21 L496.17,146.17 L497.8,146.4 L499.41,146.62 L501.03,146.87 L502.57,145.93 M504.12,145.31 L505.78,145.98 L507.31,145.06 L509,145.84 L510.66,146.02 L512.1,144.65 L513.55,143.85 L515.24,144 M430.85,169.06 L432.5,168.98 L433.99,168.37 L435.74,168.61 L437.16,167.78 L438.8,167.7 L440.36,167.36 M440.36,167.36 L441.78,166.5 L443.56,166.98 L445.16,166.83 L446.73,166.54 L448.15,165.67 L449.49,164.24 L451.18,164.6 L452.76,164.52 L454.31,165.04 L455.85,164.75 L457.54,164.29 M457.54,164.29 L459.22,164.06 L460.74,164.09 L462.15,163.97 L463.55,163.89 L465.2,164.19 L466.77,163.87 L467.97,162.65 L469.69,162.55 L470.93,161.29 L472.35,160.38 M475.59,159.93 L477.13,159.49 L478.59,158.8 L480.17,158.49 L481.86,158.57 L483.18,157.41 L484.66,156.8 L486.26,156.58 L487.81,156.18 L489.37,155.77 L491.2,156.3 L492.74,155.9 L494.06,154.63 L495.79,154.97 L497.27,154.23 L498.71,153.25 L500.46,153.89 M502.15,154.23 L503.81,154.37 L505.46,154.37 L506.94,153.57 L508.3,152.28 L509.89,152.05 L511.37,151.34 L513.05,151.51 L514.49,150.62 M435.54,177.51 L437.21,177.48 L438.47,176.15 L439.98,175.62 L441.57,175.34 L442.91,174.2 L444.51,173.94 L446.23,174.13 L447.87,174.08 L449.32,173.23 L451.09,173.85 L452.67,173.61 M454.14,172.78 L455.75,172.75 L457.33,172.49 L458.89,172.19 L460.44,171.7 L462.11,172.47 L463.7,172.26 L465.3,172.18 L466.92,172.18 L468.6,172.47 L470,170.81 L471.61,170.7 L473.26,170.67 L474.65,169.63 M476.15,169.06 L477.49,167.94 L478.98,167.34 L480.58,167.12 L482,166.32 L483.54,165.91 L485.43,166.6 L486.98,166.21 L488.51,165.72 L490.28,166.04 L491.74,165.34 L493.46,165.44 L494.9,164.68 L496.46,164.34 L497.62,162.7 M499.21,162.46 L500.85,162.49 L502.2,161.14 L503.95,161.8 L505.4,160.74 L506.99,160.57 L508.5,159.84 L510.13,159.9 L511.77,160.05 L513.25,159.07 L514.99,159.97 M437.7,186.37 L439.34,186.13 L440.84,185.56 L442.13,184.51 L443.8,184.35 L445.11,183.33 L446.36,182.03 M446.36,182.03 L447.91,181.47 L449.39,180.64 L451.01,180.23 L452.81,180.98 L454.4,180.69 L456.11,181.35 L457.73,181.4 L459.17,180.1 L460.9,180.9 L462.58,181.17 L463.95,179.66 L465.66,180.1 L467.16,179.4 L468.7,178.94 M470.43,179.4 L471.83,178.26 L473.39,177.92 L475.12,178.3 L476.7,177.99 L478.16,177.19 L479.88,177.44 L481.46,177.14 L482.93,176.43 M428.6,195.29 L429.83,194.12 L431.5,193.94 L432.81,192.92 L434.41,192.59 L436.12,192.54 L437.61,191.94 L439.01,191.07 L440.66,190.93 L442.19,190.43 L443.88,190.63 L445.42,190.23 L447.12,190.71 L448.75,190.85 L450.29,190.45 L451.73,189.26 M451.73,189.26 L453.23,188.27 L454.9,189.05 L456.52,189.28 L458.11,189.11 L459.67,188.48 L461.23,187.9 L462.87,188.24 L464.47,188.12 L466.07,187.98 L467.68,187.84 L469.31,187.83 L470.72,186.68 L472.2,185.96 L473.99,186.66 L475.67,186.83 M432.99,204.02 L434.42,203.32 L435.7,202.26 L437.08,201.38 L438.64,200.92 L440.22,200.5 L442.08,200.84 L443.88,201.14 L445.15,199.87 L446.63,199.11 L448.44,199.87 L449.96,199.36 L451.47,198.72 L453.01,198.21 L454.6,198.07 L456.07,197.21 L457.82,197.86 M459.48,198.01 L460.98,197.34 L462.64,197.48 L464.27,197.46 L465.85,197.21 L467.31,196.35 M424.15,218.21 L425.7,217.66 L427.49,217.49 L428.46,216.03 L429.8,215.16 L431.33,214.62 L432.96,214.27 L434.05,212.99 L435.27,211.88 L436.44,210.54 L438.28,210.85 L439.53,209.52 L440.95,208.57 L442.66,208.7 L444.26,208.5 L445.93,208.59 L447.39,207.82 M449.08,208.07 L450.48,206.88 L452.01,206.32 L453.7,206.66 L455.14,205.72 L456.69,205.4 L458.41,205.78 L460.06,205.75 L461.46,204.83 L462.83,203.85 L464.37,203.43 L466.1,203.62 L467.56,202.92 L468.91,201.88 M423.73,160.18 L422.28,161 L420.99,161.98 L420.38,163.64 L419.12,164.7 L418.67,166.44 L418.1,167.99 L417.42,169.42 L415.96,170.54 L414.99,171.97 L415.45,173.79 L415.51,175.42 L415.58,177.01 L415.73,178.55 L415.98,180.08 L416.39,181.59 L417.21,182.99 M417.28,184.65 L417.08,186.38 L417.52,187.91 L417.42,189.59 L418,191.09 L419.17,192.45 L419.01,194.14 L418.86,195.82 L419.97,197.2 M419.97,197.2 L421.24,198.53 L421.3,200.16 L421.44,201.78 L421.64,203.38 L421.21,205.12 L421.64,206.65 L421.74,208.26 L423.24,209.58 L423.46,211.16 L423.4,212.86 L424.83,214.05 L425.97,215.26 M425.93,218.83 L427.55,219.79 L427.96,221.38 L429.29,222.49 M437.8,145.81 L439.26,145.13 L441.09,145.6 L442.63,145.19 L444.08,144.46 L445.58,143.91 M447.19,143.73 L448.76,143.46 L450.4,143.53 L451.8,142.57 L453.43,142.63 L454.99,142.28 L456.62,142.28 L458.22,142.07 L459.83,141.85 L461.45,141.66 M461.45,141.66 L463.07,141.51 L464.53,140.71 L465.98,139.87 L467.55,139.53 L469.15,139.33 L470.56,138.38 L472.02,137.65 L473.39,136.56 L475.1,136.76 M475.1,136.76 L476.87,137.13 L478.24,136.1 L479.56,134.93 L480.98,134.1 L482.56,133.79 L484.05,133.19 M431.28,153.18 L432.2,151.51 L433.7,150.93 L435.44,150.79 L436.65,149.65 L437.9,148.51 L439.4,147.87 L441.07,147.71 L442.68,147.51 L444.22,147.05 L445.78,146.72 L447.33,146.29 M447.33,146.29 L449.05,146.68 M510.51,144.5 L512.11,144.67 L513.57,145.45 L515.22,145.44 L516.87,145.44 L518.24,146.56 L519.82,146.87 L521.36,147.38 L523.17,146.61 L524.57,147.64 L526.21,147.62 M527.92,147.52 L529.64,147.63 L530.75,149.12 L531.76,150.62 L533.06,151.56 L534.44,152.41 L535.88,153.23 L537.89,152.71 L539.19,153.96 L540.7,154.74 L542.25,155.27 L543.74,155.76 M543.74,155.76 L545.4,155.44 L547.13,155.18 L548.68,155.63 L549.84,156.93 L551.44,157.27 L552.66,158.36 L554.49,158.37 L555.42,159.91 L556.57,161.04 L558.46,161.1 L559.47,162.42 L560.71,163.43 L562.05,164.3 M563.88,164.59 L564.87,165.91 L566.4,166.6 L567.76,167.51 L568.14,169.45 L569.76,170.1 L571.2,170.98 L572.18,172.28 L572.8,173.86 L573.68,175.21 L574.08,176.93 L574.97,178.25 L576.76,178.92 M576.76,178.92 L577.2,180.56 L578.1,181.88 L579,183.19 L580.59,184.16 L581.54,185.5 L582.36,186.9 L582.31,188.69 L582.4,190.42 L583.3,191.76 L584.78,192.81 M584.78,192.81 L585.35,194.31 L585.85,195.85 L585.71,197.71 L585.88,199.41 M510.82,152.08 L512.38,152.45 L513.93,152.89 L515.33,154.16 L516.83,154.81 L518.4,155.02 L520.22,154.18 L521.8,154.53 L523.17,155.54 L524.86,155.58 L526.26,156.4 M527.76,156.98 L529.56,156.85 L530.52,158.66 L531.81,159.68 L533.61,159.59 L534.95,160.49 L536.58,160.79 L538.06,161.42 L539.38,162.37 L540.93,162.84 L542.4,163.47 L543.82,164.19 L545.05,165.33 L546.68,165.62 L548.29,165.99 M548.29,165.99 L549.39,167.38 L550.93,167.92 L551.8,169.56 L553.21,170.32 L554.41,171.38 L556.04,171.82 L556.97,173.21 L558.84,173.45 L560.39,174.16 L561.84,175.04 L562.34,176.81 L562.95,178.39 L564.42,179.3 L565.33,180.62 L565.57,182.4 L566.4,183.76 M567.99,184.66 L569.05,185.93 L570.06,187.24 L570.98,188.61 L571.32,190.22 L572.33,191.5 L571.85,193.5 L572.67,194.88 L573.3,196.35 L573.76,197.91 L574.12,199.52 L574.54,201.1 L575.77,202.27 M524.08,142.31 L525.6,142.85 L527.19,143.08 L528.78,143.28 L530.61,142.54 L532.2,142.82 L533.77,143.22 L535.13,144.23 L536.87,144.16 L538.34,144.82 M539.73,145.67 L540.97,146.89 L542.3,147.9 L543.85,148.36 L545.65,148.07 L546.97,149.14 L548.26,150.24 L549.83,150.55 L551.5,150.68 L552.98,151.29 L554.72,151.36 L555.89,152.63 L556.91,154.13 L558.47,154.58 L559.79,155.49 M562.88,156.5 L563.87,157.97 L565.28,158.7 L567.07,158.85 L568.8,159.17 L570.2,160.02 L571.17,161.41 L572.09,162.82 L573.55,163.57 L574.19,165.27 L575.71,165.96 L576.95,166.98 L578.57,167.64 L578.84,169.58 L580.52,170.24 L580.85,172.03 M580.85,172.03 L581.9,173.22 L582.87,174.49 L583.79,175.79 L585.12,176.83 L585.24,178.62 L585.45,180.3 L586.09,181.72 M586.09,181.72 L587.08,183 L588.72,183.99 L588.83,185.71 L590.06,186.89 L590.15,188.66 L591.55,189.72 L592.17,191.21 L592.41,192.87 L593.85,193.95 L594.33,195.49 L595.57,196.77 M596.54,198.21 L596.99,199.79 L595.95,201.67 L595.53,203.4 L595.92,204.95 M533.31,134.72 L535.06,134.63 L536.52,135.26 L538.05,135.76 L539.7,135.95 L541.22,136.5 L542.24,138.24 L544.06,138.13 L545.15,139.56 L546.37,140.64 L547.56,141.74 L549.17,142.15 L550.59,142.9 L552.36,143.09 L553.73,143.91 M554.59,145.57 L555.69,146.91 L557.26,147.44 L558.9,147.74 L560.57,147.96 L561.68,149.35 M563.22,149.8 L564.28,151.12 L565.61,151.95 L566.78,153.02 L568.73,153.02 L570.43,153.43 L571.04,155.26 L572.56,155.92 L573.73,157.01 M575.02,157.97 L576.75,158.47 L577.15,160.38 L578.6,161.19 L579.5,162.55 L580.71,163.6 M581.95,164.64 L583.18,165.7 L583.67,167.38 L584.2,168.99 L584.88,170.46 L586.57,171.19 L587.07,172.8 L588.63,173.65 M588.63,173.65 L589.03,175.35 L589.55,176.99 L590.98,177.92 L592.77,178.53 L593.12,180.3 L594.21,181.46 L595.03,182.81 L595.37,184.43 L595.91,185.89 L596.28,187.43 L597.16,188.72 L597.67,190.19 M599.02,191.36 L599.73,192.79 L600.32,194.27 L601.53,195.57 L601.55,197.23 L602.07,198.75 L603.02,200.2 L603.79,201.7 L603.55,203.37 L604.2,204.89 L603.36,206.65 M522.35,129.6 L523.41,130.94 L525.02,131.36 L526.47,132.06 L527.75,133.04 L529.19,133.74 L530.6,134.5 L532.16,135.01 L533.06,136.62 M515.32,161.31 L516.75,162.43 L518.29,162.89 L520.04,162.16 L521.65,162.31 L523.05,163.49 L524.45,164.42 L526.31,163.68 L527.7,164.58 L529.01,165.53 L530.45,166.2 L531.88,166.89 L533.56,167.17 L534.52,168.76 M534.52,168.76 L535.7,170.04 L537.26,170.53 L539.03,170.52 L540.27,171.62 L541.44,172.8 L543.26,172.74 L544.77,173.31 L545.76,174.71 L547.41,175.1 L548.28,176.64 L549.46,177.68 L551.05,178.21 L552.77,178.65 M552.77,178.65 L553.4,180.3 L555.13,180.88 L555.78,182.43 L557.13,183.41 L557.64,185.02 M559.83,187.4 L560.94,188.61 L561.1,190.38 L561.92,191.75 L563.34,192.82 L563.81,194.38 L563.57,196.25 L563.75,197.86 L565.23,199 L566.2,200.39 L567.07,201.83 L566.78,203.56 L567.07,205.13 L568.07,206.55 M544.59,175.45 L545.71,176.61 L546.57,177.97 L548.06,178.84 L548.15,180.78 L549.73,181.6 L551.07,182.62 L551.37,184.36 L552.93,185.3 L552.98,187.13 L554.3,188.25 L554.14,190.11 L554.72,191.59 L554.78,193.27 L555.55,194.65 L557.17,195.81 M558.04,198.92 L558.93,200.39 L558.31,202.15 L557.79,203.85 L558.59,205.34 L558.84,206.92 L559.85,208.42 L560.06,210.01 M579.06,161.48 L579.43,163.2 L580.92,164.09 L581.56,165.61 L582.86,166.63 L583.74,167.97 L584.16,169.65 M584.16,169.65 L584.79,171.19 L585.56,172.62 L587.21,173.37 L588.24,174.6 L589.63,175.54 L590.33,177.03 L591.23,178.36 M593.18,180.92 L593.52,182.58 L594.21,184.01 L594.4,185.69 L595.88,186.76 L597.04,188.03 L598.16,189.37 L598.16,191.1 L598.38,192.72 L598.62,194.32 L599.2,195.83 L598.73,197.57 M426.41,225.57 L425.47,226.91 L424.8,228.38 L425.21,230.21 L424.8,231.68 L424.23,233.22 L423.91,234.93 L424.2,236.61 L424.74,238.28 L425.67,239.83 L427.26,240.72 L428.67,241.67 M430.27,242.18 L431.93,242.34 L433.55,242.17 L435.08,242.31 L436.71,242.45 L438.3,242.23 L439.83,241.74 L441.39,241.2 L443.03,241.31 M443.03,241.31 L444.52,242.04 L445.97,242.73 L447.31,243.81 L449.17,243.2 L450.63,244.03 L452.23,244.31 L453.93,243.68 L455.46,244.44 L457.06,244.54 L458.59,245.48 L460.29,244.33 L461.89,244.43 L463.46,244.78 M463.46,244.78 L465.14,244.3 L466.67,244.94 L468.24,245.25 L469.73,246.33 L471.3,247.08 L472.96,247.01 L474.61,246.99 L476.31,247.35 L477.91,246.78 L479.4,245.76 L480.87,244.74 L482.56,245.38 M482.56,245.38 L484.13,244.97 L485.72,244.15 L487.36,243.99 L488.99,244.12 L490.48,245.43 L491.99,246.26 L493.68,245.6 L495.35,245.2 L496.88,245.82 L498.3,247.04 L499.84,247.43 M499.84,247.43 L501.45,247.5 L502.92,248.28 L504.42,248.85 L505.92,249.4 L507.74,248.58 L509.16,249.45 L510.56,250.29 L512.38,249.75 L514,249.92 L515.76,249.65 M430.97,221.56 L432.59,221.65 L434.18,221.86 L435.71,222.36 L437.41,222 L438.96,222.44 L440.49,222.92 L442.08,223.11 L443.78,222.66 L445.36,222.89 L446.75,224.31 L448.31,224.67 L449.91,224.81 L451.43,225.39 M453.04,225.45 L454.61,225.72 L456.15,226.16 L457.86,225.82 L459.56,225.58 L461.24,225.52 L462.56,226.82 L463.95,227.85 L465.69,227.52 L467.3,227.66 L468.62,228.95 L470.36,228.62 M470.36,228.62 L471.63,230.11 L473.07,230.9 L474.74,230.86 L476.17,231.7 L477.87,231.53 L479.56,231.36 L480.94,232.49 L482.5,232.92 L484.19,232.65 L485.73,233.13 L487.33,233.3 M490.54,233.44 L492.21,233.13 L493.82,233.18 L495.37,233.68 L496.91,234.2 L498.4,235.01 L499.97,235.28 L501.54,235.61 L503.18,235.49 L504.76,235.77 L506.35,235.92 M506.35,235.92 L507.8,237 L509.31,237.67 M437.89,234.45 L439.42,235 L441.11,234.6 L442.55,235.72 L444.07,236.32 L445.69,236.32 L447.44,235.58 L448.89,236.58 M450.4,237.25 L451.96,237.61 L453.71,236.89 L455.14,237.97 L456.73,238.21 L458.37,238.1 L460.06,237.73 L461.51,238.76 L463.12,238.75 L464.63,239.55 L466.29,239.15 L467.82,239.93 L469.49,239.23 L471.07,239.51 L472.66,239.72 M474.2,240.68 L475.84,240.14 L477.41,240.62 L479.05,240.1 L480.57,241.1 L482.23,240.46 L483.78,241.15 L485.41,240.86 L486.97,241.39 L488.58,241.42 L490.14,241.89 L491.7,242.52 M447.22,266.21 L447.1,268.04 L447.3,269.7 L448.98,270.69 L449.01,272.47 L449.35,274.13 L450.92,275.1 L452.05,276.29 L452.38,277.99 L453.78,278.98 M453.78,278.98 L454.39,280.52 L454.94,282.14 L456.85,282.66 L458.46,283.31 L459.52,284.45 L460.6,285.58 L461.85,286.51 L462.59,288.18 M464.89,290.51 L466.49,290.99 L468.03,291.56 L468.94,293.09 L470.88,293.04 L471.93,294.36 M475.24,295.04 L476.81,295.47 L477.89,296.79 L479.07,297.97 L480.79,298.05 L482.39,298.34 L483.65,299.39 L485.02,300.23 L486.13,301.81 L487.78,301.97 L489.16,302.95 L490.69,303.48 M490.69,303.48 L492.42,303.21 L493.98,303.54 L495.56,303.79 L497.28,303.25 L498.76,304.05 L500.39,304.05 M453.71,264.09 L454.14,265.66 L454.82,267.1 L455.39,268.61 L456.13,270.03 L456.47,271.68 L456.82,273.37 L458.38,274.32 L459.65,275.41 L459.98,277.12 L461.42,278.08 L462.11,279.57 L463.02,280.94 L464.05,282.2 M464.82,283.75 L465.98,284.93 L467.97,285.11 L469.15,286.21 L470.55,287.03 L471.87,287.94 L473.41,288.49 L474.97,288.95 L476.12,290.22 L477.59,290.86 M479.28,290.95 L480.88,291.22 L482.39,291.71 L483.99,291.96 L485.36,292.89 L487.02,293 L488.65,293.16 L490.22,293.46 L491.74,293.87 L492.95,295.32 L494.58,295.31 M496.03,296.01 L497.43,297.08 L499.02,297.27 L500.68,296.86 L502.18,297.9 L503.74,298.58 L505.42,297.55 L507.04,297.34 M459.94,259.91 L461.46,260.85 L462.16,262.3 L463.58,263.3 L463.47,265.25 L464.27,266.64 L465.87,267.53 L466.22,269.19 L467.46,270.32 L468.66,271.49 L469.62,272.77 L469.88,274.44 L470.93,275.62 L471.5,277.17 L471.96,278.97 L473.41,279.82 L474.53,281 M476.77,283.5 L478.65,283.59 L480.31,283.93 L481.88,284.36 L483.07,285.54 L484.6,286.04 L485.92,287.03 L487.67,286.92 L489.3,287.07 L490.4,288.78 L491.78,289.78 L493.58,289.36 M493.58,289.36 L495.19,289.52 L496.7,290.06 L498.15,290.96 L499.8,290.88 L501.29,291.79 L502.88,292.27 L504.5,292.61 L506.17,291.57 L507.78,290.75 L509.37,290.89 L510.99,291.72 L512.59,291.8 L514.17,291.06 M467.02,257.5 L468.49,258.39 L469.66,259.52 L469.91,261.33 L471.05,262.48 L471.55,264.1 L472.64,265.28 L473.18,266.86 L473.87,268.31 L475.29,269.26 L476.92,270.08 L477.18,271.85 L478.63,272.78 L479.52,274.12 L480.93,274.97 M483.47,276.82 L485.05,277.26 L486.42,277.98 L487.51,279.23 L488.77,280.25 L490.43,280.43 L492.08,280.5 L493.21,281.98 L494.59,282.89 L496.38,282.45 M497.9,282.89 L499.5,282.94 L500.85,284.23 L502.27,285.44 L503.94,285.19 L505.63,284.41 L507.21,284.54 L508.78,285.04 L510.36,285.36 M441.76,273.36 L441.69,275.07 L442.76,276.39 L442.95,278.03 L443.5,279.56 L444.99,280.71 L446.41,281.8 L447.36,283.03 L448.36,284.17 L449.43,285.24 L450.14,286.63 L450.53,288.41 L451.83,289.35 L452.85,290.59 L454.55,291.03 L455.84,291.95 L456.31,293.93 M456.31,293.93 L458.13,294.1 L459.26,295.25 L460.26,296.69 L461.45,297.85 L462.79,298.75 L464.44,299.06 L465.63,300.21 L466.84,301.25 L468.15,302.15 L469.25,303.37 L471.31,303.12 L472.26,304.61 L473.92,305 M475.2,306 L476.94,306.18 L478.04,307.59 L479.97,307.2 L481.33,308.1 L482.97,308.25 L484.46,308.8 L485.97,309.28 L487.35,310.24 L488.73,311.24 L490.39,311.23 L491.89,311.85 L493.54,311.83 L495.17,311.8 L496.58,312.98 L498.25,312.74 M498.25,312.74 L499.93,312.29 L501.51,312.52 L502.99,313.47 L504.65,313.18 M438.47,279.59 L439.58,280.81 L440.21,282.29 L440.77,283.81 L442.09,284.89 L442.43,286.52 L443.15,287.93 L444.06,289.22 L444.69,290.71 L444.93,292.56 L446.55,293.29 M446.55,293.29 L447.06,295 L448.58,295.77 L449.41,297.22 L451.19,297.65 L451.71,299.5 L453.2,300.22 L454.07,301.78 L455.91,301.95 L457.37,302.63 L458.54,303.81 M461.79,304.56 L462.91,305.84 L463.9,307.34 M419.4,253 L420.16,254.42 L420.57,256.06 L422.47,256.73 L423.14,258.21 L424.35,259.31 L425.36,260.54 L426.04,262.08 L427.35,263.04 L428.19,264.71 L429.57,265.87 L431.55,265.31 M432.98,266.14 L434.47,266.8 M562.75,243.73 L564.01,242.72 L565.46,242.03 L566.42,240.52 L568.36,240.64 L569.71,239.78 L571,238.82 L572.16,237.65 M572.16,237.65 L573.19,236.25 L574.35,235.1 L575.85,234.49 L577.49,234.11 L578.83,233.23 L580.11,232.25 M580.11,232.25 L581.78,231.91 L582.93,230.71 L584.45,230.11 L585.99,229.59 L587.08,228.2 L589.06,228.55 L590.64,228.15 L592.28,227.87 L593.23,226.16 M558.69,255.8 L559.46,254 L561.22,253.81 L562.67,253.12 L563.66,251.67 L565.32,251.32 L566.54,250.25 L567.9,249.42 M570.56,247.62 L571.81,246.55 L573.44,246.21 L574.54,244.82 L576.16,244.48 L577.89,244.38 L579.27,243.56 L580.47,242.38 L582.2,242.28 L583.86,242.02 L585.36,241.44 L586.66,240.46 M586.66,240.46 L588.29,240.15 L589.76,239.5 L590.69,237.79 L592,236.82 L593.14,235.53 L594.35,234.36 L595.89,233.88 L597.81,234.13 L599.51,233.95 L600.52,232.4 M553.67,264.04 L555.17,263.48 L556.43,262.25 L558.13,262.24 L559.67,261.8 L561.04,260.93 L562.9,261.2 L564.63,261.08 L565.93,260.03 L567.64,259.75 L568.66,258.26 L570.2,257.7 M570.2,257.7 L571.56,256.84 L573.05,256.2 L574.58,255.63 L575.76,254.52 L576.6,252.83 L577.65,251.49 L579.35,251.18 M579.35,251.18 L580.34,249.75 L581.86,249.17 L582.83,247.67 L584.2,246.81 L585.58,245.96 L587.08,245.3 L588.79,245.12 L590.17,244.26 L591.41,243.02 L592.81,242.16 L594.35,241.65 L596.19,242 L597.98,242.25 M544.59,275.29 L546.31,275.28 L547.66,274.35 L549.1,273.63 L550.59,273.05 L552.37,273.19 L553.63,272.04 L555.22,271.71 L556.46,270.49 L558.03,270.11 M559.38,269.16 L561.17,269.35 L562.46,268.24 L564.2,268.28 L565.72,267.75 L567.06,266.8 L568.8,266.72 L569.99,265.49 L571.56,265.04 L572.96,264.24 L574.23,263.22 L575.25,261.7 M576.72,261.06 L578.07,260.17 L579.58,259.61 L581.47,259.82 L582.65,258.59 L584.25,258.22 L585.76,257.67 L586.9,256.36 L588.29,255.56 L589.47,254.35 M538.08,285 L539.71,284.76 L541.1,283.93 L542.49,283.12 L543.62,281.65 L545.43,281.86 M545.43,281.86 L546.58,280.41 L548.07,279.79 L549.58,279.23 L551.29,279.31 L552.9,279.1 L554.31,278.25 L556.06,278.52 L557.74,278.6 L558.91,276.87 L560.53,276.7 L562.03,276.14 L563.5,275.45 M565.05,275.05 L566.52,274.38 L568.19,274.4 L569.77,274.09 L571.56,274.27 L573.26,274.09 L574.9,273.7 L575.99,272.18 L577.54,271.66 L578.88,270.74 L580.28,269.97 M528.81,291.28 L530.41,291.11 L531.96,290.72 L533.64,290.95 L535.16,290.41 L536.56,289.22 L538.27,289.61 L539.64,288.32 L541.43,289.13 L543.03,289.05 L544.66,289.06 L546.31,289.17 L547.87,288.67 L549.57,288.74 M552.68,287.56 L554.02,286.45 L555.19,285.06 L556.61,284.31 L558.04,283.59 L559.82,283.68 L561.5,283.6 M561.5,283.6 L562.62,282.06 L564.13,281.5 L565.74,281.29 L567.49,281.75 L569.08,281.56 L570.39,280.12 M519.62,297.39 L521.1,296.61 L522.76,296.76 L524.31,296.35 L526.04,296.82 L527.51,296.05 L529.08,295.75 L530.53,294.81 L532.08,294.41 L533.72,294.46 L535.37,294.55 L536.95,294.31 M536.95,294.31 L538.67,294.72 L540.06,293.53 L541.79,294.01 L543.21,292.94 L544.97,293.61 L546.5,293.11 L548.01,292.47 L549.61,292.32 M549.61,292.32 L551.29,292.55 L552.96,292.74 M512.84,306.49 L514.47,306.47 L515.9,305.45 L517.41,304.85 L519.01,304.71 L520.84,305.67 L522.44,305.55 L524.11,305.71 L525.45,304.27 L527.02,303.93 L528.46,303.01 L530.02,302.65 M531.53,302.05 L533.35,302.99 L534.86,302.38 L536.45,302.17 L538.09,302.22 L539.79,302.53 L541.45,302.69 L542.95,302 L544.45,301.34 L546.12,301.53 M510.58,313.46 L512.11,312.98 L513.67,312.61 L515.25,312.32 L516.78,311.8 L518.36,311.49 L519.96,311.27 L521.47,310.36 L523.19,311.18 M523.19,311.18 L524.71,310.24 L526.34,310.46 L527.96,310.58 L529.54,310.34 M523.97,285.94 L525.49,285.44 L527.39,285.89 L528.84,285.21 L530.31,284.59 L531.92,284.37 L533.29,283.44 L534.86,283.12 L536.2,281.94 L537.9,282.11 L539.4,281.49 L540.88,280.79 M567.55,228.44 L568.64,227.03 L570.31,226.8 L571.31,225.23 L572.59,224.21 L573.88,223.21 L575.74,223.35 M547.12,266.96 L548.37,265.69 L549.95,265.36 L551.63,265.31 L553.34,265.27 L554.78,264.5 M556.03,263.31 L557.12,261.85 L558.71,261.46 L559.84,260.16 L561.33,259.57 L562.65,258.64 L564.03,257.83 M510.46,246.45 L511.84,247.24 L513.74,247.1 L514.84,248.43 L516.66,248.37 L517.88,249.51 M519.27,250.3 L520.54,251.57 L522.12,251.99 L523.96,251.28 L525.3,252.56 L526.82,253.14 L528.42,253.31 M522.26,150.83 L523.78,151.05 L525.36,150.78 L526.72,151.16 L527.71,152.31 L529.25,152.18 L530.73,152.54 L531.58,154.23 M545.7,159.11 L547.05,159.48 L548.34,160.18 L549.39,161.37 L551.11,161.23 L552,162.65 L553.38,163.2 L555.13,163.21 L556.29,164.19 M558.43,166.42 L559.15,167.96 L560.53,168.66 L561.59,169.76 L563.02,170.42 L563.83,171.74 L565.55,172.07 L566.18,173.53 L567.7,174.15 M569.81,176.36 L570.81,177.53 L572.04,178.52 L572.88,179.82 L573.38,181.35 M575.54,185.2 L575.66,186.75 L576.76,187.83 L577.31,189.26 L578.08,190.66 M579.87,195.27 L581.19,196.39 L582.23,197.66 L582.38,199.38 L583.01,200.85 M510.02,156.66 L511.7,156.44 L513.23,156.99 L514.75,157.42 L516.26,157.73 L517.56,158.97 L519.11,158.77 L520.59,158.74 M536.01,165.43 L537.54,165.91 L539.22,166.16 L540.29,167.7 L541.55,168.95 L543.05,169.63 L544.32,170.64 L545.45,171.74 L547.31,171.27 M559.11,179.62 L559.29,181.3 L560.84,181.92 L561.78,183.09 L562.03,184.74 L562.9,185.97 L564.35,186.82 L565.55,187.83 L565.38,189.57 M566.95,194.05 L567.68,195.55 L568.33,197.05 L569.53,198.24 L570.34,199.62 L570.55,201.31 L571.16,202.79 L572,204.16 M523.48,144.86 L524.96,145.62 L526.64,145.43 L527.88,146.99 L529.49,146.89 L530.75,147.97 L532.45,147.4 L533.69,148.32 L535.39,148.1 L537.04,148.15 L538.28,149.34 M540.88,151.71 L542.3,152.64 L543.79,153.29 L545.41,153.43 L547.21,152.98 L548.56,153.7 L550.14,153.82 L551.4,154.73 L552.85,155.27 L554.15,156.11 L555.72,156.43 M558.19,158.36 L559.53,159.17 L561.24,159.34 L562.42,160.39 L563.55,161.45 L564.3,163.04 L565.61,163.72 M572.9,171.12 L573.81,172.21 L574.8,173.21 L575.64,174.34 L577.77,174.46 L578.74,175.56 L579.51,176.84 M590.16,194 L589.89,195.74 L590.09,197.12 L590.61,198.34 L590.95,199.7 L590.96,201.21 L591,202.75 L592.57,204.03 L593.54,205.47 M539.46,140.84 L540.55,142.11 L542.04,142.39 L543.53,142.69 L544.56,143.84 L546.05,144.25 L547.25,145.26 L548.76,145.8 L549.62,147.44 L551.38,147.72 L552.98,148.3 M554.5,149.09 L556.03,149.9 L557.26,151.28 L558.6,152.25 L559.8,153.26 L561.14,153.7 L562.81,153.56 L563.69,154.89 L565.22,155.28 L566.67,155.85 M567.81,156.87 L568.32,158.68 L569.77,159.28 L571.11,160.03 L571.7,161.66 M572.39,163.15 L573.98,163.68 L575.68,164.12 L576.3,165.68 L577.1,167.05 L578.55,167.76 L579.2,169.18 L580.51,170.01 L581.78,170.89 M584.1,174.91 L584.65,176.52 L586.56,177.19 L587.44,178.64 L588.56,179.87 L590.08,180.73 L590.17,182.66 L591.62,183.39 L592.7,184.37 M519.71,133.99 L521.59,133.97 L522.42,135.69 L523.43,137.13 L524.61,138.26 M528.99,140.3 L530.42,141.02 M514.52,165.91 L516.21,165.66 L517.63,166.94 L519.05,167.87 L520.78,166.86 L522.17,167.69 L523.63,167.68 L525.16,167.26 L526.56,167.44 M530.32,169.72 L532,170 L533.45,170.8 L534.49,172.5 L535.96,173.3 L537.28,174.27 L538.74,174.8 M540.34,174.93 L541.95,175.05 L543.17,175.92 L544.67,176.4 L545.87,177.38 L546.7,178.85 L547.9,179.73 L548.94,180.78 L549.77,182 L551,182.7 M552.28,185.28 L553.18,186.4 L554.3,187.4 L555.12,188.65 L556.05,189.85 L557.12,190.97 L557.16,192.7 L558.5,193.63 M541.12,178.16 L541.94,179.57 L542.86,180.89 L544.15,181.87 L545.16,183.05 M546.59,185.73 L548.23,186.37 L549.11,187.55 L549.41,189.09 L550.77,190.06 L551.7,191.27 M553.54,195.33 L553.86,196.77 L554.56,198.13 L554.17,199.77 L554.36,201.3 L555.21,202.71 L555.53,204.21 L555,205.82 L555.7,207.29 M555.72,208.87 L556.33,210.41 M574.79,164.68 L575.24,166.35 L575.98,167.79 L577.14,168.92 L578.06,170.23 L579.12,171.44 M580.94,174.11 L582.81,174.75 L583.43,176.34 L584.91,177.21 L586.26,178.14 L586.44,179.92 L588.16,180.48 L588.76,181.83 L589.66,183.01 L589.78,184.65 M590.6,231.63 L592.23,231.41 L593.27,229.94 L594.67,229.17 M560.52,258.81 L562.29,258.61 L563.71,257.86 L564.69,256.4 L565.76,255.12 L567.17,254.41 L568.52,253.61 L569.46,252.12 L571.29,252.23 L572.64,251.52 L573.96,250.71 M592.59,241.59 L593.92,240.67 L595.15,239.56 L596.66,238.99 L598.52,239.14 L599.54,237.6 L600.97,236.89 L602.61,236.58 M555.19,268.07 L556.47,266.97 L558.21,267.07 L559.43,265.7 L560.83,264.79 M565.88,263.75 L567.63,263.37 L568.96,262.12 L570.7,261.71 L572.17,260.93 L573.66,260.2 M577,256.52 L578.47,255.87 L580.37,255.87 L582.01,255.41 L582.72,253.53 L583.68,252.1 L584.98,251.23 L586.67,251.07 M546.18,279.26 L547.41,278.03 L549.31,278.47 L550.98,278.32 L552.33,277.39 L553.8,276.76 L555.09,275.69 L556.91,275.93 M578.79,265.11 L580.08,264.16 L581.68,263.81 L583.05,262.96 L584.35,262 L586.08,261.89 L587.44,261.02 L588.84,260.25 L590.58,260.15 L591.86,259.12 M555.6,282.67 L557.19,282.47 L558.42,280.97 L559.99,280.58 L561.71,280.77 L563.08,279.84 L564.69,279.73 L566.1,278.81 L567.66,278.39 L569.57,278.96 M572.91,277.88 L574.18,276.25 L575.9,275.83 L577.71,275.63 L579.41,275.21 L580.6,273.93 L582.02,273.18 M529.65,295.48 L531.22,295.2 L532.95,295.69 L534.32,294.35 L535.99,294.57 M540.79,294.2 L542.15,293.1 L543.69,292.87 L545.25,292.55 L546.85,292.19 L548.39,291.24 L550.18,291.3 L552.1,291.57 L553.85,291.07 L555.3,289.85 M558.51,288.7 L559.69,287.4 L561.28,287.15 L562.65,286.56 L564.02,286.17 L565.62,286.62 L566.97,286.02 L568.55,286.2 L569.88,285.13 L571.48,285.07 M520.5,301.76 L522.05,301.36 L523.67,301.3 L525.09,300.24 L526.69,300.1 L528.38,300.38 M531.4,299.18 L533.16,299.84 L534.87,300.21 L536.28,299.11 L537.73,298.19 L539.21,297.41 L540.71,296.76 L542.49,297.49 L544.16,297.71 L545.63,296.88 M547.21,296.65 L548.86,296.75 L550.25,295.51 L551.98,296.03 L553.67,296.29 M513.62,310.38 L515.4,311.13 L517.05,311.23 L518.49,310.27 L520.06,309.97 L521.58,309.4 L523.19,309.27 L524.8,309.16 L526.29,308.47 L527.93,308.51 L529.64,308.89 M532.87,308.73 L534.22,307.33 L535.66,306.37 L537.3,306.4 L538.97,306.59 M543.58,305.16 L545.25,305.36 L546.72,304.56 M511.93,318.36 L513.57,318.22 L515.1,317.82 L516.7,317.89 L517.82,316.21 L519.21,315.62 L520.68,315.67 L522.18,315.96 L523.65,315.6 L525.2,315.41 M525.66,290.26 L527.32,290.1 L528.93,289.82 L530.22,288.81 L531.67,288.24 M534.47,287.21 L535.83,286.61 L537.27,286.12 L538.71,285.49 L540.23,285.05 L541.75,284.59 M548.44,270.64 L549.9,269.97 L551.33,269.21 L552.8,268.48 L554.37,268 M555.93,267.38 L557.56,266.82 L559.16,266.16 L560.89,265.88 L562.58,265.58 L563.63,264.03 L564.64,262.48 L566.04,261.7 M508.99,249.21 L509.97,250.74 L511.16,251.91 L512.61,252.7 L514.11,253.49 M519.43,254.95 L521.15,255.51 L522.69,256.54 L524.22,257.48 L525.78,258.02 L527.34,258.34"/>
<path stroke="#0E1A68" stroke-opacity="0.68" stroke-width="1.3" d="M419.07,164.15 L420.19,162.99 L421.81,162.45 L423.01,161.4 L424.17,160.3 L425.62,159.62 L426.5,157.97 L428.07,157.47 L429.54,156.79 L431.35,157.21 M432.99,157.3 L434.34,156.1 L435.87,155.63 L437.31,154.64 L438.92,154.48 L440.62,154.98 L442.29,155.35 M443.81,154.74 L445.33,154.02 L446.87,153.31 L448.51,153.6 L450.16,154.31 L451.69,153.27 L453.33,153.79 L454.87,152.71 L456.45,152.34 L458.03,152.13 L459.67,152.77 L461.22,152.4 M464.39,152.17 L465.62,151 L467.36,151.02 L468.67,149.86 L470.33,149.72 L471.81,149.05 L473.31,148.41 L474.97,148.46 L476.54,148.18 L478.08,147.74 L479.63,147.37 L481.24,147.18 L482.65,146.26 L484.16,145.63 L485.88,145.89 L487.53,145.96 L489.11,145.74 M489.11,145.74 L490.77,146.12 L492.34,145.87 L493.97,146.11 L495.47,145.07 L497.1,145.3 L498.71,145.52 L500.33,145.77 L501.87,144.83 M503.42,144.21 L505.08,144.88 L506.61,143.96 L508.3,144.74 L509.96,144.92 L511.4,143.55 L512.85,142.75 L514.54,142.9 M430.15,167.96 L431.8,167.88 L433.29,167.27 L435.04,167.51 L436.46,166.68 L438.1,166.6 L439.66,166.26 M439.66,166.26 L441.08,165.4 L442.86,165.88 L444.46,165.73 L446.03,165.44 L447.45,164.57 L448.79,163.14 L450.48,163.5 L452.06,163.42 L453.61,163.94 L455.15,163.65 L456.84,163.19 M456.84,163.19 L458.52,162.96 L460.04,162.99 L461.45,162.87 L462.85,162.79 L464.5,163.09 L466.07,162.77 L467.27,161.55 L468.99,161.45 L470.23,160.19 L471.65,159.28 M474.89,158.83 L476.43,158.39 L477.89,157.7 L479.47,157.39 L481.16,157.47 L482.48,156.31 L483.96,155.7 L485.56,155.48 L487.11,155.08 L488.67,154.67 L490.5,155.2 L492.04,154.8 L493.36,153.53 L495.09,153.87 L496.57,153.13 L498.01,152.15 L499.76,152.79 M501.45,153.13 L503.11,153.27 L504.76,153.27 L506.24,152.47 L507.6,151.18 L509.19,150.95 L510.67,150.24 L512.35,150.41 L513.79,149.52 M434.84,176.41 L436.51,176.38 L437.77,175.05 L439.28,174.52 L440.87,174.24 L442.21,173.1 L443.81,172.84 L445.53,173.03 L447.17,172.98 L448.62,172.13 L450.39,172.75 L451.97,172.51 M453.44,171.68 L455.05,171.65 L456.63,171.39 L458.19,171.09 L459.74,170.6 L461.41,171.37 L463,171.16 L464.6,171.08 L466.22,171.08 L467.9,171.37 L469.3,169.71 L470.91,169.6 L472.56,169.57 L473.95,168.53 M475.45,167.96 L476.79,166.84 L478.28,166.24 L479.88,166.02 L481.3,165.22 L482.84,164.81 L484.73,165.5 L486.28,165.11 L487.81,164.62 L489.58,164.94 L491.04,164.24 L492.76,164.34 L494.2,163.58 L495.76,163.24 L496.92,161.6 M498.51,161.36 L500.15,161.39 L501.5,160.04 L503.25,160.7 L504.7,159.64 L506.29,159.47 L507.8,158.74 L509.43,158.8 L511.07,158.95 L512.55,157.97 L514.29,158.87 M437,185.27 L438.64,185.03 L440.14,184.46 L441.43,183.41 L443.1,183.25 L444.41,182.23 L445.66,180.93 M445.66,180.93 L447.21,180.37 L448.69,179.54 L450.31,179.13 L452.11,179.88 L453.7,179.59 L455.41,180.25 L457.03,180.3 L458.47,179 L460.2,179.8 L461.88,180.07 L463.25,178.56 L464.96,179 L466.46,178.3 L468,177.84 M469.73,178.3 L471.13,177.16 L472.69,176.82 L474.42,177.2 L476,176.89 L477.46,176.09 L479.18,176.34 L480.76,176.04 L482.23,175.33 M427.9,194.19 L429.13,193.02 L430.8,192.84 L432.11,191.82 L433.71,191.49 L435.42,191.44 L436.91,190.84 L438.31,189.97 L439.96,189.83 L441.49,189.33 L443.18,189.53 L444.72,189.13 L446.42,189.61 L448.05,189.75 L449.59,189.35 L451.03,188.16 M451.03,188.16 L452.53,187.17 L454.2,187.95 L455.82,188.18 L457.41,188.01 L458.97,187.38 L460.53,186.8 L462.17,187.14 L463.77,187.02 L465.37,186.88 L466.98,186.74 L468.61,186.73 L470.02,185.58 L471.5,184.86 L473.29,185.56 L474.97,185.73 M432.29,202.92 L433.72,202.22 L435,201.16 L436.38,200.28 L437.94,199.82 L439.52,199.4 L441.38,199.74 L443.18,200.04 L444.45,198.77 L445.93,198.01 L447.74,198.77 L449.26,198.26 L450.77,197.62 L452.31,197.11 L453.9,196.97 L455.37,196.11 L457.12,196.76 M458.78,196.91 L460.28,196.24 L461.94,196.38 L463.57,196.36 L465.15,196.11 L466.61,195.25 M423.45,217.11 L425,216.56 L426.79,216.39 L427.76,214.93 L429.1,214.06 L430.63,213.52 L432.26,213.17 L433.35,211.89 L434.57,210.78 L435.74,209.44 L437.58,209.75 L438.83,208.42 L440.25,207.47 L441.96,207.6 L443.56,207.4 L445.23,207.49 L446.69,206.72 M448.38,206.97 L449.78,205.78 L451.31,205.22 L453,205.56 L454.44,204.62 L455.99,204.3 L457.71,204.68 L459.36,204.65 L460.76,203.73 L462.13,202.75 L463.67,202.33 L465.4,202.52 L466.86,201.82 L468.21,200.78 M423.03,159.08 L421.58,159.9 L420.29,160.88 L419.68,162.54 L418.42,163.6 L417.97,165.34 L417.4,166.89 L416.72,168.32 L415.26,169.44 L414.29,170.87 L414.75,172.69 L414.81,174.32 L414.88,175.91 L415.03,177.45 L415.28,178.98 L415.69,180.49 L416.51,181.89 M416.58,183.55 L416.38,185.28 L416.82,186.81 L416.72,188.49 L417.3,189.99 L418.47,191.35 L418.31,193.04 L418.16,194.72 L419.27,196.1 M419.27,196.1 L420.54,197.43 L420.6,199.06 L420.74,200.68 L420.94,202.28 L420.51,204.02 L420.94,205.55 L421.04,207.16 L422.54,208.48 L422.76,210.06 L422.7,211.76 L424.13,212.95 L425.27,214.16 M425.23,217.73 L426.85,218.69 L427.26,220.28 L428.59,221.39 M437.1,144.71 L438.56,144.03 L440.39,144.5 L441.93,144.09 L443.38,143.36 L444.88,142.81 M446.49,142.63 L448.06,142.36 L449.7,142.43 L451.1,141.47 L452.73,141.53 L454.29,141.18 L455.92,141.18 L457.52,140.97 L459.13,140.75 L460.75,140.56 M460.75,140.56 L462.37,140.41 L463.83,139.61 L465.28,138.77 L466.85,138.43 L468.45,138.23 L469.86,137.28 L471.32,136.55 L472.69,135.46 L474.4,135.66 M474.4,135.66 L476.17,136.03 L477.54,135 L478.86,133.83 L480.28,133 L481.86,132.69 L483.35,132.09 M430.58,152.08 L431.5,150.41 L433,149.83 L434.74,149.69 L435.95,148.55 L437.2,147.41 L438.7,146.77 L440.37,146.61 L441.98,146.41 L443.52,145.95 L445.08,145.62 L446.63,145.19 M446.63,145.19 L448.35,145.58 M509.81,143.4 L511.41,143.57 L512.87,144.35 L514.52,144.34 L516.17,144.34 L517.54,145.46 L519.12,145.77 L520.66,146.28 L522.47,145.51 L523.87,146.54 L525.51,146.52 M527.22,146.42 L528.94,146.53 L530.05,148.02 L531.06,149.52 L532.36,150.46 L533.74,151.31 L535.18,152.13 L537.19,151.61 L538.49,152.86 L540,153.64 L541.55,154.17 L543.04,154.66 M543.04,154.66 L544.7,154.34 L546.43,154.08 L547.98,154.53 L549.14,155.83 L550.74,156.17 L551.96,157.26 L553.79,157.27 L554.72,158.81 L555.87,159.94 L557.76,160 L558.77,161.32 L560.01,162.33 L561.35,163.2 M563.18,163.49 L564.17,164.81 L565.7,165.5 L567.06,166.41 L567.44,168.35 L569.06,169 L570.5,169.88 L571.48,171.18 L572.1,172.76 L572.98,174.11 L573.38,175.83 L574.27,177.15 L576.06,177.82 M576.06,177.82 L576.5,179.46 L577.4,180.78 L578.3,182.09 L579.89,183.06 L580.84,184.4 L581.66,185.8 L581.61,187.59 L581.7,189.32 L582.6,190.66 L584.08,191.71 M584.08,191.71 L584.65,193.21 L585.15,194.75 L585.01,196.61 L585.18,198.31 M510.12,150.98 L511.68,151.35 L513.23,151.79 L514.63,153.06 L516.13,153.71 L517.7,153.92 L519.52,153.08 L521.1,153.43 L522.47,154.44 L524.16,154.48 L525.56,155.3 M527.06,155.88 L528.86,155.75 L529.82,157.56 L531.11,158.58 L532.91,158.49 L534.25,159.39 L535.88,159.69 L537.36,160.32 L538.68,161.27 L540.23,161.74 L541.7,162.37 L543.12,163.09 L544.35,164.23 L545.98,164.52 L547.59,164.89 M547.59,164.89 L548.69,166.28 L550.23,166.82 L551.1,168.46 L552.51,169.22 L553.71,170.28 L555.34,170.72 L556.27,172.11 L558.14,172.35 L559.69,173.06 L561.14,173.94 L561.64,175.71 L562.25,177.29 L563.72,178.2 L564.63,179.52 L564.87,181.3 L565.7,182.66 M567.29,183.56 L568.35,184.83 L569.36,186.14 L570.28,187.51 L570.62,189.12 L571.63,190.4 L571.15,192.4 L571.97,193.78 L572.6,195.25 L573.06,196.81 L573.42,198.42 L573.84,200 L575.07,201.17 M523.38,141.21 L524.9,141.75 L526.49,141.98 L528.08,142.18 L529.91,141.44 L531.5,141.72 L533.07,142.12 L534.43,143.13 L536.17,143.06 L537.64,143.72 M539.03,144.57 L540.27,145.79 L541.6,146.8 L543.15,147.26 L544.95,146.97 L546.27,148.04 L547.56,149.14 L549.13,149.45 L550.8,149.58 L552.28,150.19 L554.02,150.26 L555.19,151.53 L556.21,153.03 L557.77,153.48 L559.09,154.39 M562.18,155.4 L563.17,156.87 L564.58,157.6 L566.37,157.75 L568.1,158.07 L569.5,158.92 L570.47,160.31 L571.39,161.72 L572.85,162.47 L573.49,164.17 L575.01,164.86 L576.25,165.88 L577.87,166.54 L578.14,168.48 L579.82,169.14 L580.15,170.93 M580.15,170.93 L581.2,172.12 L582.17,173.39 L583.09,174.69 L584.42,175.73 L584.54,177.52 L584.75,179.2 L585.39,180.62 M585.39,180.62 L586.38,181.9 L588.02,182.89 L588.13,184.61 L589.36,185.79 L589.45,187.56 L590.85,188.62 L591.47,190.11 L591.71,191.77 L593.15,192.85 L593.63,194.39 L594.87,195.67 M595.84,197.11 L596.29,198.69 L595.25,200.57 L594.83,202.3 L595.22,203.85 M532.61,133.62 L534.36,133.53 L535.82,134.16 L537.35,134.66 L539,134.85 L540.52,135.4 L541.54,137.14 L543.36,137.03 L544.45,138.46 L545.67,139.54 L546.86,140.64 L548.47,141.05 L549.89,141.8 L551.66,141.99 L553.03,142.81 M553.89,144.47 L554.99,145.81 L556.56,146.34 L558.2,146.64 L559.87,146.86 L560.98,148.25 M562.52,148.7 L563.58,150.02 L564.91,150.85 L566.08,151.92 L568.03,151.92 L569.73,152.33 L570.34,154.16 L571.86,154.82 L573.03,155.91 M574.32,156.87 L576.05,157.37 L576.45,159.28 L577.9,160.09 L578.8,161.45 L580.01,162.5 M581.25,163.54 L582.48,164.6 L582.97,166.28 L583.5,167.89 L584.18,169.36 L585.87,170.09 L586.37,171.7 L587.93,172.55 M587.93,172.55 L588.33,174.25 L588.85,175.89 L590.28,176.82 L592.07,177.43 L592.42,179.2 L593.51,180.36 L594.33,181.71 L594.67,183.33 L595.21,184.79 L595.58,186.33 L596.46,187.62 L596.97,189.09 M598.32,190.26 L599.03,191.69 L599.62,193.17 L600.83,194.47 L600.85,196.13 L601.37,197.65 L602.32,199.1 L603.09,200.6 L602.85,202.27 L603.5,203.79 L602.66,205.55 M521.65,128.5 L522.71,129.84 L524.32,130.26 L525.77,130.96 L527.05,131.94 L528.49,132.64 L529.9,133.4 L531.46,133.91 L532.36,135.52 M514.62,160.21 L516.05,161.33 L517.59,161.79 L519.34,161.06 L520.95,161.21 L522.35,162.39 L523.75,163.32 L525.61,162.58 L527,163.48 L528.31,164.43 L529.75,165.1 L531.18,165.79 L532.86,166.07 L533.82,167.66 M533.82,167.66 L535,168.94 L536.56,169.43 L538.33,169.42 L539.57,170.52 L540.74,171.7 L542.56,171.64 L544.07,172.21 L545.06,173.61 L546.71,174 L547.58,175.54 L548.76,176.58 L550.35,177.11 L552.07,177.55 M552.07,177.55 L552.7,179.2 L554.43,179.78 L555.08,181.33 L556.43,182.31 L556.94,183.92 M559.13,186.3 L560.24,187.51 L560.4,189.28 L561.22,190.65 L562.64,191.72 L563.11,193.28 L562.87,195.15 L563.05,196.76 L564.53,197.9 L565.5,199.29 L566.37,200.73 L566.08,202.46 L566.37,204.03 L567.37,205.45 M543.89,174.35 L545.01,175.51 L545.87,176.87 L547.36,177.74 L547.45,179.68 L549.03,180.5 L550.37,181.52 L550.67,183.26 L552.23,184.2 L552.28,186.03 L553.6,187.15 L553.44,189.01 L554.02,190.49 L554.08,192.17 L554.85,193.55 L556.47,194.71 M557.34,197.82 L558.23,199.29 L557.61,201.05 L557.09,202.75 L557.89,204.24 L558.14,205.82 L559.15,207.32 L559.36,208.91 M578.36,160.38 L578.73,162.1 L580.22,162.99 L580.86,164.51 L582.16,165.53 L583.04,166.87 L583.46,168.55 M583.46,168.55 L584.09,170.09 L584.86,171.52 L586.51,172.27 L587.54,173.5 L588.93,174.44 L589.63,175.93 L590.53,177.26 M592.48,179.82 L592.82,181.48 L593.51,182.91 L593.7,184.59 L595.18,185.66 L596.34,186.93 L597.46,188.27 L597.46,190 L597.68,191.62 L597.92,193.22 L598.5,194.73 L598.03,196.47 M425.71,224.47 L424.77,225.81 L424.1,227.28 L424.51,229.11 L424.1,230.58 L423.53,232.12 L423.21,233.83 L423.5,235.51 L424.04,237.18 L424.97,238.73 L426.56,239.62 L427.97,240.57 M429.57,241.08 L431.23,241.24 L432.85,241.07 L434.38,241.21 L436.01,241.35 L437.6,241.13 L439.13,240.64 L440.69,240.1 L442.33,240.21 M442.33,240.21 L443.82,240.94 L445.27,241.63 L446.61,242.71 L448.47,242.1 L449.93,242.93 L451.53,243.21 L453.23,242.58 L454.76,243.34 L456.36,243.44 L457.89,244.38 L459.59,243.23 L461.19,243.33 L462.76,243.68 M462.76,243.68 L464.44,243.2 L465.97,243.84 L467.54,244.15 L469.03,245.23 L470.6,245.98 L472.26,245.91 L473.91,245.89 L475.61,246.25 L477.21,245.68 L478.7,244.66 L480.17,243.64 L481.86,244.28 M481.86,244.28 L483.43,243.87 L485.02,243.05 L486.66,242.89 L488.29,243.02 L489.78,244.33 L491.29,245.16 L492.98,244.5 L494.65,244.1 L496.18,244.72 L497.6,245.94 L499.14,246.33 M499.14,246.33 L500.75,246.4 L502.22,247.18 L503.72,247.75 L505.22,248.3 L507.04,247.48 L508.46,248.35 L509.86,249.19 L511.68,248.65 L513.3,248.82 L515.06,248.55 M430.27,220.46 L431.89,220.55 L433.48,220.76 L435.01,221.26 L436.71,220.9 L438.26,221.34 L439.79,221.82 L441.38,222.01 L443.08,221.56 L444.66,221.79 L446.05,223.21 L447.61,223.57 L449.21,223.71 L450.73,224.29 M452.34,224.35 L453.91,224.62 L455.45,225.06 L457.16,224.72 L458.86,224.48 L460.54,224.42 L461.86,225.72 L463.25,226.75 L464.99,226.42 L466.6,226.56 L467.92,227.85 L469.66,227.52 M469.66,227.52 L470.93,229.01 L472.37,229.8 L474.04,229.76 L475.47,230.6 L477.17,230.43 L478.86,230.26 L480.24,231.39 L481.8,231.82 L483.49,231.55 L485.03,232.03 L486.63,232.2 M489.84,232.34 L491.51,232.03 L493.12,232.08 L494.67,232.58 L496.21,233.1 L497.7,233.91 L499.27,234.18 L500.84,234.51 L502.48,234.39 L504.06,234.67 L505.65,234.82 M505.65,234.82 L507.1,235.9 L508.61,236.57 M437.19,233.35 L438.72,233.9 L440.41,233.5 L441.85,234.62 L443.37,235.22 L444.99,235.22 L446.74,234.48 L448.19,235.48 M449.7,236.15 L451.26,236.51 L453.01,235.79 L454.44,236.87 L456.03,237.11 L457.67,237 L459.36,236.63 L460.81,237.66 L462.42,237.65 L463.93,238.45 L465.59,238.05 L467.12,238.83 L468.79,238.13 L470.37,238.41 L471.96,238.62 M473.5,239.58 L475.14,239.04 L476.71,239.52 L478.35,239 L479.87,240 L481.53,239.36 L483.08,240.05 L484.71,239.76 L486.27,240.29 L487.88,240.32 L489.44,240.79 L491,241.42 M562.05,242.63 L563.31,241.62 L564.76,240.93 L565.72,239.42 L567.66,239.54 L569.01,238.68 L570.3,237.72 L571.46,236.55 M571.46,236.55 L572.49,235.15 L573.65,234 L575.15,233.39 L576.79,233.01 L578.13,232.13 L579.41,231.15 M579.41,231.15 L581.08,230.81 L582.23,229.61 L583.75,229.01 L585.29,228.49 L586.38,227.1 L588.36,227.45 L589.94,227.05 L591.58,226.77 L592.53,225.06 M557.99,254.7 L558.76,252.9 L560.52,252.71 L561.97,252.02 L562.96,250.57 L564.62,250.22 L565.84,249.15 L567.2,248.32 M569.86,246.52 L571.11,245.45 L572.74,245.11 L573.84,243.72 L575.46,243.38 L577.19,243.28 L578.57,242.46 L579.77,241.28 L581.5,241.18 L583.16,240.92 L584.66,240.34 L585.96,239.36 M585.96,239.36 L587.59,239.05 L589.06,238.4 L589.99,236.69 L591.3,235.72 L592.44,234.43 L593.65,233.26 L595.19,232.78 L597.11,233.03 L598.81,232.85 L599.82,231.3 M552.97,262.94 L554.47,262.38 L555.73,261.15 L557.43,261.14 L558.97,260.7 L560.34,259.83 L562.2,260.1 L563.93,259.98 L565.23,258.93 L566.94,258.65 L567.96,257.16 L569.5,256.6 M569.5,256.6 L570.86,255.74 L572.35,255.1 L573.88,254.53 L575.06,253.42 L575.9,251.73 L576.95,250.39 L578.65,250.08 M578.65,250.08 L579.64,248.65 L581.16,248.07 L582.13,246.57 L583.5,245.71 L584.88,244.86 L586.38,244.2 L588.09,244.02 L589.47,243.16 L590.71,241.92 L592.11,241.06 L593.65,240.55 L595.49,240.9 L597.28,241.15 M543.89,274.19 L545.61,274.18 L546.96,273.25 L548.4,272.53 L549.89,271.95 L551.67,272.09 L552.93,270.94 L554.52,270.61 L555.76,269.39 L557.33,269.01 M558.68,268.06 L560.47,268.25 L561.76,267.14 L563.5,267.18 L565.02,266.65 L566.36,265.7 L568.1,265.62 L569.29,264.39 L570.86,263.94 L572.26,263.14 L573.53,262.12 L574.55,260.6 M576.02,259.96 L577.37,259.07 L578.88,258.51 L580.77,258.72 L581.95,257.49 L583.55,257.12 L585.06,256.57 L586.2,255.26 L587.59,254.46 L588.77,253.25 M537.38,283.9 L539.01,283.66 L540.4,282.83 L541.79,282.02 L542.92,280.55 L544.73,280.76 M544.73,280.76 L545.88,279.31 L547.37,278.69 L548.88,278.13 L550.59,278.21 L552.2,278 L553.61,277.15 L555.36,277.42 L557.04,277.5 L558.21,275.77 L559.83,275.6 L561.33,275.04 L562.8,274.35 M564.35,273.95 L565.82,273.28 L567.49,273.3 L569.07,272.99 L570.86,273.17 L572.56,272.99 L574.2,272.6 L575.29,271.08 L576.84,270.56 L578.18,269.64 L579.58,268.87 M528.11,290.18 L529.71,290.01 L531.26,289.62 L532.94,289.85 L534.46,289.31 L535.86,288.12 L537.57,288.51 L538.94,287.22 L540.73,288.03 L542.33,287.95 L543.96,287.96 L545.61,288.07 L547.17,287.57 L548.87,287.64 M551.98,286.46 L553.32,285.35 L554.49,283.96 L555.91,283.21 L557.34,282.49 L559.12,282.58 L560.8,282.5 M560.8,282.5 L561.92,280.96 L563.43,280.4 L565.04,280.19 L566.79,280.65 L568.38,280.46 L569.69,279.02 M536.25,293.21 L537.97,293.62 L539.36,292.43 L541.09,292.91 L542.51,291.84 L544.27,292.51 L545.8,292.01 L547.31,291.37 L548.91,291.22 M548.91,291.22 L550.59,291.45 L552.26,291.64 M530.83,300.95 L532.65,301.89 L534.16,301.28 L535.75,301.07 L537.39,301.12 L539.09,301.43 L540.75,301.59 L542.25,300.9 L543.75,300.24 L545.42,300.43 M523.27,284.84 L524.79,284.34 L526.69,284.79 L528.14,284.11 L529.61,283.49 L531.22,283.27 L532.59,282.34 L534.16,282.02 L535.5,280.84 L537.2,281.01 L538.7,280.39 L540.18,279.69 M566.85,227.34 L567.94,225.93 L569.61,225.7 L570.61,224.13 L571.89,223.11 L573.18,222.11 L575.04,222.25 M546.42,265.86 L547.67,264.59 L549.25,264.26 L550.93,264.21 L552.64,264.17 L554.08,263.4 M555.33,262.21 L556.42,260.75 L558.01,260.36 L559.14,259.06 L560.63,258.47 L561.95,257.54 L563.33,256.73 M509.76,245.35 L511.14,246.14 L513.04,246 L514.14,247.33 L515.96,247.27 L517.18,248.41 M521.56,149.73 L523.08,149.95 L524.66,149.68 L526.02,150.06 L527.01,151.21 L528.55,151.08 L530.03,151.44 L530.88,153.13 M545,158.01 L546.35,158.38 L547.64,159.08 L548.69,160.27 L550.41,160.13 L551.3,161.55 L552.68,162.1 L554.43,162.11 L555.59,163.09 M557.73,165.32 L558.45,166.86 L559.83,167.56 L560.89,168.66 L562.32,169.32 L563.13,170.64 L564.85,170.97 L565.48,172.43 L567,173.05 M569.11,175.26 L570.11,176.43 L571.34,177.42 L572.18,178.72 L572.68,180.25 M574.84,184.1 L574.96,185.65 L576.06,186.73 L576.61,188.16 L577.38,189.56 M579.17,194.17 L580.49,195.29 L581.53,196.56 L581.68,198.28 L582.31,199.75 M509.32,155.56 L511,155.34 L512.53,155.89 L514.05,156.32 L515.56,156.63 L516.86,157.87 L518.41,157.67 L519.89,157.64 M535.31,164.33 L536.84,164.81 L538.52,165.06 L539.59,166.6 L540.85,167.85 L542.35,168.53 L543.62,169.54 L544.75,170.64 L546.61,170.17 M558.41,178.52 L558.59,180.2 L560.14,180.82 L561.08,181.99 L561.33,183.64 L562.2,184.87 L563.65,185.72 L564.85,186.73 L564.68,188.47 M566.25,192.95 L566.98,194.45 L567.63,195.95 L568.83,197.14 L569.64,198.52 L569.85,200.21 L570.46,201.69 L571.3,203.06 M522.78,143.76 L524.26,144.52 L525.94,144.33 L527.18,145.89 L528.79,145.79 L530.05,146.87 L531.75,146.3 L532.99,147.22 L534.69,147 L536.34,147.05 L537.58,148.24 M540.18,150.61 L541.6,151.54 L543.09,152.19 L544.71,152.33 L546.51,151.88 L547.86,152.6 L549.44,152.72 L550.7,153.63 L552.15,154.17 L553.45,155.01 L555.02,155.33 M557.49,157.26 L558.83,158.07 L560.54,158.24 L561.72,159.29 L562.85,160.35 L563.6,161.94 L564.91,162.62 M572.2,170.02 L573.11,171.11 L574.1,172.11 L574.94,173.24 L577.07,173.36 L578.04,174.46 L578.81,175.74 M589.46,192.9 L589.19,194.64 L589.39,196.02 L589.91,197.24 L590.25,198.6 L590.26,200.11 L590.3,201.65 L591.87,202.93 L592.84,204.37 M538.76,139.74 L539.85,141.01 L541.34,141.29 L542.83,141.59 L543.86,142.74 L545.35,143.15 L546.55,144.16 L548.06,144.7 L548.92,146.34 L550.68,146.62 L552.28,147.2 M553.8,147.99 L555.33,148.8 L556.56,150.18 L557.9,151.15 L559.1,152.16 L560.44,152.6 L562.11,152.46 L562.99,153.79 L564.52,154.18 L565.97,154.75 M567.11,155.77 L567.62,157.58 L569.07,158.18 L570.41,158.93 L571,160.56 M571.69,162.05 L573.28,162.58 L574.98,163.02 L575.6,164.58 L576.4,165.95 L577.85,166.66 L578.5,168.08 L579.81,168.91 L581.08,169.79 M583.4,173.81 L583.95,175.42 L585.86,176.09 L586.74,177.54 L587.86,178.77 L589.38,179.63 L589.47,181.56 L590.92,182.29 L592,183.27 M519.01,132.89 L520.89,132.87 L521.72,134.59 L522.73,136.03 L523.91,137.16 M528.29,139.2 L529.72,139.92 M513.82,164.81 L515.51,164.56 L516.93,165.84 L518.35,166.77 L520.08,165.76 L521.47,166.59 L522.93,166.58 L524.46,166.16 L525.86,166.34 M529.62,168.62 L531.3,168.9 L532.75,169.7 L533.79,171.4 L535.26,172.2 L536.58,173.17 L538.04,173.7 M539.64,173.83 L541.25,173.95 L542.47,174.82 L543.97,175.3 L545.17,176.28 L546,177.75 L547.2,178.63 L548.24,179.68 L549.07,180.9 L550.3,181.6 M551.58,184.18 L552.48,185.3 L553.6,186.3 L554.42,187.55 L555.35,188.75 L556.42,189.87 L556.46,191.6 L557.8,192.53 M540.42,177.06 L541.24,178.47 L542.16,179.79 L543.45,180.77 L544.46,181.95 M545.89,184.63 L547.53,185.27 L548.41,186.45 L548.71,187.99 L550.07,188.96 L551,190.17 M552.84,194.23 L553.16,195.67 L553.86,197.03 L553.47,198.67 L553.66,200.2 L554.51,201.61 L554.83,203.11 L554.3,204.72 L555,206.19 M555.02,207.77 L555.63,209.31 M574.09,163.58 L574.54,165.25 L575.28,166.69 L576.44,167.82 L577.36,169.13 L578.42,170.34 M580.24,173.01 L582.11,173.65 L582.73,175.24 L584.21,176.11 L585.56,177.04 L585.74,178.82 L587.46,179.38 L588.06,180.73 L588.96,181.91 L589.08,183.55 M589.9,230.53 L591.53,230.31 L592.57,228.84 L593.97,228.07 M559.82,257.71 L561.59,257.51 L563.01,256.76 L563.99,255.3 L565.06,254.02 L566.47,253.31 L567.82,252.51 L568.76,251.02 L570.59,251.13 L571.94,250.42 L573.26,249.61 M591.89,240.49 L593.22,239.57 L594.45,238.46 L595.96,237.89 L597.82,238.04 L598.84,236.5 L600.27,235.79 L601.91,235.48 M554.49,266.97 L555.77,265.87 L557.51,265.97 L558.73,264.6 L560.13,263.69 M565.18,262.65 L566.93,262.27 L568.26,261.02 L570,260.61 L571.47,259.83 L572.96,259.1 M576.3,255.42 L577.77,254.77 L579.67,254.77 L581.31,254.31 L582.02,252.43 L582.98,251 L584.28,250.13 L585.97,249.97 M545.48,278.16 L546.71,276.93 L548.61,277.37 L550.28,277.22 L551.63,276.29 L553.1,275.66 L554.39,274.59 L556.21,274.83 M578.09,264.01 L579.38,263.06 L580.98,262.71 L582.35,261.86 L583.65,260.9 L585.38,260.79 L586.74,259.92 L588.14,259.15 L589.88,259.05 L591.16,258.02 M554.9,281.57 L556.49,281.37 L557.72,279.87 L559.29,279.48 L561.01,279.67 L562.38,278.74 L563.99,278.63 L565.4,277.71 L566.96,277.29 L568.87,277.86 M572.21,276.78 L573.48,275.15 L575.2,274.73 L577.01,274.53 L578.71,274.11 L579.9,272.83 L581.32,272.08 M528.95,294.38 L530.52,294.1 L532.25,294.59 L533.62,293.25 L535.29,293.47 M540.09,293.1 L541.45,292 L542.99,291.77 L544.55,291.45 L546.15,291.09 L547.69,290.14 L549.48,290.2 L551.4,290.47 L553.15,289.97 L554.6,288.75 M557.81,287.6 L558.99,286.3 L560.58,286.05 L561.95,285.46 L563.32,285.07 L564.92,285.52 L566.27,284.92 L567.85,285.1 L569.18,284.03 L570.78,283.97 M530.7,298.08 L532.46,298.74 L534.17,299.11 L535.58,298.01 L537.03,297.09 L538.51,296.31 L540.01,295.66 L541.79,296.39 L543.46,296.61 L544.93,295.78 M546.51,295.55 L548.16,295.65 L549.55,294.41 L551.28,294.93 L552.97,295.19 M532.17,307.63 L533.52,306.23 L534.96,305.27 L536.6,305.3 L538.27,305.49 M542.88,304.06 L544.55,304.26 L546.02,303.46 M533.77,286.11 L535.13,285.51 L536.57,285.02 L538.01,284.39 L539.53,283.95 L541.05,283.49 M547.74,269.54 L549.2,268.87 L550.63,268.11 L552.1,267.38 L553.67,266.9 M555.23,266.28 L556.86,265.72 L558.46,265.06 L560.19,264.78 L561.88,264.48 L562.93,262.93 L563.94,261.38 L565.34,260.6"/>
<path stroke="#14306E" stroke-opacity="0.5" stroke-width="1.1" d="M446.52,265.11 L446.4,266.94 L446.6,268.6 L448.28,269.59 L448.31,271.37 L448.65,273.03 L450.22,274 L451.35,275.19 L451.68,276.89 L453.08,277.88 M453.08,277.88 L453.69,279.42 L454.24,281.04 L456.15,281.56 L457.76,282.21 L458.82,283.35 L459.9,284.48 L461.15,285.41 L461.89,287.08 M464.19,289.41 L465.79,289.89 L467.33,290.46 L468.24,291.99 L470.18,291.94 L471.23,293.26 M474.54,293.94 L476.11,294.37 L477.19,295.69 L478.37,296.87 L480.09,296.95 L481.69,297.24 L482.95,298.29 L484.32,299.13 L485.43,300.71 L487.08,300.87 L488.46,301.85 L489.99,302.38 M489.99,302.38 L491.72,302.11 L493.28,302.44 L494.86,302.69 L496.58,302.15 L498.06,302.95 L499.69,302.95 M453.01,262.99 L453.44,264.56 L454.12,266 L454.69,267.51 L455.43,268.93 L455.77,270.58 L456.12,272.27 L457.68,273.22 L458.95,274.31 L459.28,276.02 L460.72,276.98 L461.41,278.47 L462.32,279.84 L463.35,281.1 M464.12,282.65 L465.28,283.83 L467.27,284.01 L468.45,285.11 L469.85,285.93 L471.17,286.84 L472.71,287.39 L474.27,287.85 L475.42,289.12 L476.89,289.76 M478.58,289.85 L480.18,290.12 L481.69,290.61 L483.29,290.86 L484.66,291.79 L486.32,291.9 L487.95,292.06 L489.52,292.36 L491.04,292.77 L492.25,294.22 L493.88,294.21 M495.33,294.91 L496.73,295.98 L498.32,296.17 L499.98,295.76 L501.48,296.8 L503.04,297.48 L504.72,296.45 L506.34,296.24 M459.24,258.81 L460.76,259.75 L461.46,261.2 L462.88,262.2 L462.77,264.15 L463.57,265.54 L465.17,266.43 L465.52,268.09 L466.76,269.22 L467.96,270.39 L468.92,271.67 L469.18,273.34 L470.23,274.52 L470.8,276.07 L471.26,277.87 L472.71,278.72 L473.83,279.9 M476.07,282.4 L477.95,282.49 L479.61,282.83 L481.18,283.26 L482.37,284.44 L483.9,284.94 L485.22,285.93 L486.97,285.82 L488.6,285.97 L489.7,287.68 L491.08,288.68 L492.88,288.26 M492.88,288.26 L494.49,288.42 L496,288.96 L497.45,289.86 L499.1,289.78 L500.59,290.69 L502.18,291.17 L503.8,291.51 L505.47,290.47 L507.08,289.65 L508.67,289.79 L510.29,290.62 L511.89,290.7 L513.47,289.96 M466.32,256.4 L467.79,257.29 L468.96,258.42 L469.21,260.23 L470.35,261.38 L470.85,263 L471.94,264.18 L472.48,265.76 L473.17,267.21 L474.59,268.16 L476.22,268.98 L476.48,270.75 L477.93,271.68 L478.82,273.02 L480.23,273.87 M482.77,275.72 L484.35,276.16 L485.72,276.88 L486.81,278.13 L488.07,279.15 L489.73,279.33 L491.38,279.4 L492.51,280.88 L493.89,281.79 L495.68,281.35 M497.2,281.79 L498.8,281.84 L500.15,283.13 L501.57,284.34 L503.24,284.09 L504.93,283.31 L506.51,283.44 L508.08,283.94 L509.66,284.26 M441.06,272.26 L440.99,273.97 L442.06,275.29 L442.25,276.93 L442.8,278.46 L444.29,279.61 L445.71,280.7 L446.66,281.93 L447.66,283.07 L448.73,284.14 L449.44,285.53 L449.83,287.31 L451.13,288.25 L452.15,289.49 L453.85,289.93 L455.14,290.85 L455.61,292.83 M455.61,292.83 L457.43,293 L458.56,294.15 L459.56,295.59 L460.75,296.75 L462.09,297.65 L463.74,297.96 L464.93,299.11 L466.14,300.15 L467.45,301.05 L468.55,302.27 L470.61,302.02 L471.56,303.51 L473.22,303.9 M474.5,304.9 L476.24,305.08 L477.34,306.49 L479.27,306.1 L480.63,307 L482.27,307.15 L483.76,307.7 L485.27,308.18 L486.65,309.14 L488.03,310.14 L489.69,310.13 L491.19,310.75 L492.84,310.73 L494.47,310.7 L495.88,311.88 L497.55,311.64 M497.55,311.64 L499.23,311.19 L500.81,311.42 L502.29,312.37 L503.95,312.08 M437.77,278.49 L438.88,279.71 L439.51,281.19 L440.07,282.71 L441.39,283.79 L441.73,285.42 L442.45,286.83 L443.36,288.12 L443.99,289.61 L444.23,291.46 L445.85,292.19 M445.85,292.19 L446.36,293.9 L447.88,294.67 L448.71,296.12 L450.49,296.55 L451.01,298.4 L452.5,299.12 L453.37,300.68 L455.21,300.85 L456.67,301.53 L457.84,302.71 M461.09,303.46 L462.21,304.74 L463.2,306.24 M418.7,251.9 L419.46,253.32 L419.87,254.96 L421.77,255.63 L422.44,257.11 L423.65,258.21 L424.66,259.44 L425.34,260.98 L426.65,261.94 L427.49,263.61 L428.87,264.77 L430.85,264.21 M432.28,265.04 L433.77,265.7 M518.92,296.29 L520.4,295.51 L522.06,295.66 L523.61,295.25 L525.34,295.72 L526.81,294.95 L528.38,294.65 L529.83,293.71 L531.38,293.31 L533.02,293.36 L534.67,293.45 L536.25,293.21 M512.14,305.39 L513.77,305.37 L515.2,304.35 L516.71,303.75 L518.31,303.61 L520.14,304.57 L521.74,304.45 L523.41,304.61 L524.75,303.17 L526.32,302.83 L527.76,301.91 L529.32,301.55 M509.88,312.36 L511.41,311.88 L512.97,311.51 L514.55,311.22 L516.08,310.7 L517.66,310.39 L519.26,310.17 L520.77,309.26 L522.49,310.08 M522.49,310.08 L524.01,309.14 L525.64,309.36 L527.26,309.48 L528.84,309.24 M518.57,249.2 L519.84,250.47 L521.42,250.89 L523.26,250.18 L524.6,251.46 L526.12,252.04 L527.72,252.21 M519.8,300.66 L521.35,300.26 L522.97,300.2 L524.39,299.14 L525.99,299 L527.68,299.28 M512.92,309.28 L514.7,310.03 L516.35,310.13 L517.79,309.17 L519.36,308.87 L520.88,308.3 L522.49,308.17 L524.1,308.06 L525.59,307.37 L527.23,307.41 L528.94,307.79 M511.23,317.26 L512.87,317.12 L514.4,316.72 L516,316.79 L517.12,315.11 L518.51,314.52 L519.98,314.57 L521.48,314.86 L522.95,314.5 L524.5,314.31 M524.96,289.16 L526.62,289 L528.23,288.72 L529.52,287.71 L530.97,287.14 M508.29,248.11 L509.27,249.64 L510.46,250.81 L511.91,251.6 L513.41,252.39 M518.73,253.85 L520.45,254.41 L521.99,255.44 L523.52,256.38 L525.08,256.92 L526.64,257.24"/>
<path stroke="#100E5A" stroke-opacity="0.5" stroke-width="1.5" d="M462.9,177.96 L464.36,177.3 L466.04,177.05 L467.31,176.04 L468.68,175.22 L470.14,174.57 L471.4,173.45 L472.96,173.03 L474.56,172.77 L476.2,172.68 L477.53,171.52 L479.03,170.94 L480.47,170.13 L482.21,170.43 L483.83,170.23 L485.11,169.03 L486.91,169.35 L488.57,169.32 L490.04,168.74 L491.53,168.2 L492.93,167.16 L494.41,166.26 L496.05,166.36 L497.59,165.7 L499.2,165.44 L500.82,165.33 L502.43,164.96 L504.07,165.35 L505.69,165.61 L507.26,166.39 L508.86,166.48 L510.43,166.8 L512.02,166.93 L513.56,167.36 L515.16,167.49 L516.8,167.5 L518.14,168.67 L519.53,169.57 L521.02,170.1 L522.56,170.46 L524.27,170.4 L525.94,170.5 L527.51,170.94 L529.16,171.23 L530.28,172.6 L531.71,173.34 L532.68,174.74 L534.09,175.51 L534.83,177.04 L535.76,178.32 L537.61,178.78 L538.93,179.76 L539.39,181.48 M473.69,188.75 L475.44,188.75 L476.73,187.73 L477.92,186.44 L479.54,186.15 L481.18,185.96 L482.52,184.97 L483.9,183.98 L485.48,183.59 L487.25,184.09 L488.85,184 L490.29,182.98 L491.83,182.47 L493.38,181.89 L494.96,181.42 L496.65,182.14 L498.22,181.66 L499.85,181.88 L501.45,181.85 L503.04,181.45 L504.66,181.97 L506.26,181.47 L507.86,181.9 L509.49,181.48 L511.09,181.73 L512.73,181.67 L514.34,181.84 L515.77,183.04 L517.27,183.67 L518.93,183.53 L520.33,184.44 L522.04,184.28 L523.6,184.67 L524.89,185.77 L526.31,186.45 L528.07,186.51 L529.06,188 L530.74,188.32 L532.25,188.93 L533.29,190.27 L534.78,190.91 L536.24,191.6 M475.67,199 L477.08,198.18 L478.75,198.12 L480.21,197.44 L481.87,197.32 L483.38,196.79 L484.96,196.44 L486.67,196.83 L488.2,196.35 L489.78,196.13 L491.4,196.35 L492.92,195.48 L494.49,194.91 L496.13,195.6 L497.73,195.89 L499.32,195.27 L500.92,194.85 L502.51,195.39 L504.09,196.03 L505.71,195.42 L507.27,196.16 L508.83,196.57 L510.43,196.51 L512.05,196.29 L513.73,195.83 L515.4,195.58 L516.81,196.84 L518.46,196.76 L519.93,197.51 L521.58,197.52 L522.98,198.48 L524.5,198.95 L526.15,199.01 L527.81,199.1 L529.16,200.11 L530.88,200.11 L532.43,200.57 L533.77,201.53 L535,202.74 L536.45,203.42 L538.09,203.64 M478.1,208.77 L479.59,207.91 L481.08,207.03 L482.66,206.77 L484.28,206.76 L485.82,206.16 L487.41,205.87 L489.05,205.94 L490.69,206.21 L492.29,205.77 L493.91,205.84 L495.51,206.65 L497.07,207.33 L498.66,207.33 L500.24,207.45 L501.84,207.46 L503.51,206.92 L505.17,206.56 L506.82,206.41 L508.25,207.66 L509.77,208.26 L511.22,209.13 L512.99,208.52 L514.48,209.17 L516.04,209.52 L517.51,210.23 L519.15,210.26 L520.55,211.33 L522.3,210.83 L523.84,211.29 L525.34,211.96 L526.82,212.7 L528.39,213.04 L529.96,213.32 L531.51,213.73 M454.73,193.51 L455.52,192.04 L456.77,191.02 L458.18,190.18 L459.45,189.21 L460.24,187.76 L461.57,186.88 L462.94,186.07 L464.04,184.9 L465.26,183.88 L466.32,182.62 L467.64,181.72 L468.98,180.83 M449.73,168.87 L451.35,168.52 L453.11,168.45 L454.67,167.99 L456.07,167.24 L457.28,166.1 L458.81,165.6 L460.22,164.85 L461.58,163.98 L463.21,163.72 L464.38,162.36 L466.03,162.19 L467.27,160.93 L468.91,160.75 L470.46,160.31 L471.9,159.55 L473.57,159.56 L475.12,159.15 L476.71,158.92 L478.38,159.06 L479.8,158.12 L481.24,157.1 L482.82,156.79 L484.49,157.06 L486.05,156.52 L487.63,156.11 L489.3,156.85 L490.91,156.92 L492.49,156.61 M456.08,204.27 L457.54,205.07 L458.53,206.34 L460.04,207.1 L461.17,208.23 L461.92,209.73 L462.72,211.2 L463.67,212.5 L465.17,213.26 L466.32,214.38 L467.73,215.24 L469.21,216.02 L470.2,217.28 L470.97,218.81 L471.91,220.16 L473.09,221.25 L474.07,222.57 L475.77,223.06 L477.38,223.62 L478.6,224.65 L480,225.42 L481.42,226.16 L482.65,227.17 L483.8,228.33 L485.15,229.19 L486.64,229.79 L487.77,231.07 L488.95,232.31 L490.58,232.65 L492.36,232.58 L494.02,232.69 L495.22,234.05 L496.92,233.88 L498.32,234.8 L499.86,235.26 L501.48,235.25 L503,235.96 L504.67,235.37 L506.29,235.22 L507.85,235.62 L509.45,235.28 L511,236.2 L512.6,235.91 L514.19,235.58 L515.78,235.24 L517.39,235.82 L518.99,235.89 L520.6,236.18 M449.84,214.81 L450.71,216.19 L451.52,217.64 L452.73,218.7 L454.39,219.31 L455.57,220.4 L457.03,221.19 L458.53,221.9 L459.48,223.23 L460.31,224.69 L461.79,225.42 L463.09,226.37 L464.29,227.41 L465.21,228.8 L466.45,229.82 L467.64,230.9 L468.81,232.04 L470.35,232.62 L471.54,233.76 L472.77,234.88 L474.62,234.82 L475.77,236.11 L477.19,236.89 L478.97,236.83 L480.44,237.45 L481.84,238.26 L483.15,239.33 L484.81,239.48 L486.32,240 L487.72,240.91 L489.22,241.52 L490.7,242.23 L492.39,242.17 L493.96,242.51 L495.67,242.23 L497.17,242.9 L498.67,243.54 L500.26,243.8 L501.83,244.15 L503.52,243.77 L505.02,244.58 L506.55,245.24 L508.13,245.7 L509.79,245.4 L511.4,245.61 L513.05,245.07 L514.66,245.57 L516.3,245.7 L517.88,245.03 L519.4,244.15 L521,244.05 L522.6,244.02 L524.25,244.21 L525.81,243.82 L527.27,242.85 L528.96,243.23 L530.43,242.34 M520.97,159.01 L522.69,158.99 L524.24,159.4 L525.55,160.47 L527.26,160.51 L528.87,160.79 L530.24,161.71 L531.5,162.82 L532.71,163.94 L534.09,164.74 L535.28,165.85 L536.85,166.31 L538,167.48 L539.86,167.51 L541.42,168.06 L542.63,169.13 L544.05,169.93 L544.98,171.33 L546.07,172.5 L547.29,173.54 L548.16,174.94 L549.43,175.93 M529.83,151.91 L531.35,152.41 L532.65,153.52 L533.99,154.49 L535.73,154.4 L537.04,155.44 L538.31,156.46 L539.86,156.83 L541.31,157.47 L542.98,157.78 L544.26,158.75 L545.56,159.69 L546.77,160.75 L548.48,161.11 L549.25,162.77"/>
</g>
<g fill="none" stroke-width="1.1">
<circle cx="434.3" cy="85.6" r="3.8" stroke="#3E4A50" stroke-opacity="0.3"/>
<circle cx="435.0" cy="86.3" r="2.85" stroke="#ffffff" stroke-opacity="0.22"/>
<circle cx="644.2" cy="196.8" r="3.0" stroke="#3E4A50" stroke-opacity="0.3"/>
<circle cx="644.9000000000001" cy="197.5" r="2.25" stroke="#ffffff" stroke-opacity="0.22"/>
<circle cx="609.7" cy="250.7" r="2.8" stroke="#3E4A50" stroke-opacity="0.3"/>
<circle cx="610.4000000000001" cy="251.39999999999998" r="2.10" stroke="#ffffff" stroke-opacity="0.22"/>
<circle cx="454.0" cy="299.3" r="2.4" stroke="#3E4A50" stroke-opacity="0.3"/>
<circle cx="454.7" cy="300.0" r="1.80" stroke="#ffffff" stroke-opacity="0.22"/>
<circle cx="397.0" cy="274.3" r="3.0" stroke="#3E4A50" stroke-opacity="0.3"/>
<circle cx="397.7" cy="275.0" r="2.25" stroke="#ffffff" stroke-opacity="0.22"/>
<circle cx="429.5" cy="90.5" r="1.8" stroke="#3E4A50" stroke-opacity="0.3"/>
<circle cx="430.2" cy="91.2" r="1.35" stroke="#ffffff" stroke-opacity="0.22"/>
</g>
</g>
<g fill="none" stroke="#FF0A0A" stroke-width="2.2" stroke-dasharray="7.6 3.1">
<path d="M581.9,115.4 L582.81,116.39 L584.02,117.7 L585.46,119.25 L587.06,120.99 L588.75,122.84 L590.47,124.76 L592.14,126.66 L593.7,128.5 L595.2,130.3 L596.72,132.13 L598.26,134 L599.79,135.91 L601.31,137.85 L602.79,139.83 L604.23,141.84 L605.6,143.9 L606.92,146 L608.2,148.16 L609.44,150.35 L610.65,152.58 L611.82,154.84 L612.95,157.12 L614.04,159.41 L615.1,161.7 L616.13,163.99 L617.13,166.29 L618.1,168.6 L619.03,170.92 L619.91,173.28 L620.73,175.67 L621.5,178.11 L622.2,180.6 L622.84,183.12 L623.45,185.67 L624,188.24 L624.49,190.86 L624.92,193.53 L625.27,196.27 L625.53,199.09 L625.7,202 L625.77,205.04 L625.76,208.23 L625.67,211.51 L625.5,214.85 L625.25,218.21 L624.94,221.55 L624.55,224.82 L624.1,228 L623.59,231.09 L623.01,234.14 L622.37,237.15 L621.65,240.12 L620.86,243.07 L619.99,246 L619.04,248.91 L618,251.8 L616.88,254.69 L615.69,257.56 L614.42,260.43 L613.07,263.26 L611.63,266.07 L610.11,268.83 L608.5,271.54 L606.8,274.2 L604.99,276.82 L603.06,279.43 L601.03,282 L598.92,284.52 L596.75,286.98 L594.53,289.36 L592.27,291.64 L590,293.8 L587.7,295.84 L585.36,297.76 L582.98,299.58 L580.55,301.33 L578.08,303 L575.56,304.63 L573,306.22 L570.4,307.8 L567.73,309.37 L565,310.93 L562.21,312.46 L559.37,313.93 L556.52,315.34 L553.67,316.67 L550.82,317.89 L548,319 L545.14,319.99 L542.18,320.86 L539.19,321.64 L536.21,322.34 L533.31,322.96 L530.54,323.52 L527.95,324.03 L525.6,324.5 L523.56,324.92 L521.82,325.28 L520.28,325.58 L518.86,325.83 L517.47,326.01 L516.02,326.15 L514.43,326.25 L512.6,326.3 L510.53,326.31 L508.31,326.27 L505.97,326.18 L503.56,326.04 L501.11,325.86 L498.68,325.62 L496.29,325.34 L494,325 L491.79,324.6 L489.61,324.13 L487.46,323.6 L485.34,323.02 L483.22,322.41 L481.12,321.78 L479.01,321.14 L476.9,320.5 L474.79,319.88 L472.68,319.28 L470.58,318.67 L468.48,318.03 L466.39,317.36 L464.29,316.62 L462.2,315.81 L460.1,314.9 L457.99,313.9 L455.87,312.84 L453.74,311.72 L451.62,310.52 L449.5,309.27 L447.41,307.94 L445.34,306.55 L443.3,305.1 L441.28,303.57 L439.27,301.96 L437.26,300.28 L435.29,298.54 L433.34,296.74 L431.44,294.9 L429.59,293.01 L427.8,291.1 L426.07,289.14 L424.38,287.13 L422.74,285.07 L421.14,282.96 L419.59,280.83 L418.09,278.66 L416.62,276.49 L415.2,274.3 L413.82,272.1 L412.49,269.88 L411.2,267.64 L409.95,265.38 L408.75,263.1 L407.59,260.79 L406.47,258.46 L405.4,256.1 L404.37,253.73 L403.38,251.34 L402.43,248.94 L401.52,246.51 L400.67,244.05 L399.86,241.55 L399.1,239 L398.4,236.4 L397.75,233.67 L397.15,230.79 L396.6,227.83 L396.09,224.84 L395.64,221.9 L395.24,219.07 L394.9,216.42 L394.6,214 L394.36,211.88 L394.19,210 L394.07,208.31 L394.01,206.72 L393.98,205.17 L393.99,203.58 L394.03,201.88 L394.1,200 L394.19,197.93 L394.32,195.76 L394.49,193.5 L394.69,191.19 L394.92,188.85 L395.18,186.52 L395.48,184.23 L395.8,182 L396.16,179.8 L396.55,177.6 L396.98,175.4 L397.44,173.22 L397.93,171.07 L398.44,168.98 L398.96,166.95 L399.5,165 L400.04,163.14 L400.59,161.37 L401.15,159.67 L401.74,158.01 L402.36,156.39 L403.02,154.77 L403.73,153.15 L404.5,151.5 L405.28,149.91 L406.05,148.44 L406.84,147.01 L407.68,145.57 L408.62,144.04 L409.7,142.37 L410.94,140.47 L412.4,138.3 L414.11,135.73 L416.07,132.78 L418.2,129.57 L420.47,126.24 L422.81,122.9 L425.16,119.68 L427.48,116.7 L429.7,114.1 L431.85,111.85 L434.01,109.82 L436.16,107.97 L438.31,106.27 L440.45,104.7 L442.6,103.2 L444.75,101.74 L446.9,100.3 L449.06,98.89 L451.23,97.54 L453.41,96.26 L455.58,95.06 L457.75,93.92 L459.89,92.84 L462.01,91.84 L464.1,90.9 L466.16,90.04 L468.2,89.28 L470.23,88.59 L472.23,87.96 L474.21,87.38 L476.17,86.84 L478.1,86.32 L480,85.8 L481.9,85.29 L483.82,84.8 L485.73,84.34 L487.6,83.91 L489.42,83.52 L491.16,83.17 L492.79,82.86 L494.3,82.6 L495.65,82.4 L496.85,82.27 L497.93,82.18 L498.94,82.14 L499.92,82.12 L500.89,82.11 L501.91,82.11 L503,82.1 L504.15,82.08 L505.31,82.07 L506.48,82.07 L507.66,82.07 L508.87,82.1 L510.09,82.14 L511.33,82.21 L512.6,82.3 L513.9,82.42 L515.25,82.55 L516.62,82.7 L518.01,82.88 L519.4,83.07 L520.79,83.29 L522.16,83.53 L523.5,83.8 L524.89,84.12 L526.36,84.51 L527.86,84.95 L529.33,85.39 L530.72,85.83 L531.96,86.23 L533.01,86.56 L533.8,86.8"/>
<path d="M512,229.8 L512.65,229.89 L513.5,230.02 L514.52,230.19 L515.65,230.36 L516.87,230.51 L518.12,230.64 L519.38,230.71 L520.6,230.7 L521.83,230.64 L523.12,230.56 L524.45,230.45 L525.8,230.29 L527.15,230.07 L528.48,229.8 L529.77,229.44 L531,229 L532.18,228.47 L533.36,227.86 L534.51,227.18 L535.62,226.44 L536.7,225.63 L537.73,224.77 L538.7,223.86 L539.6,222.9 L540.44,221.88 L541.24,220.78 L541.99,219.62 L542.69,218.41 L543.32,217.17 L543.89,215.91 L544.38,214.65 L544.8,213.4 L545.13,212.15 L545.39,210.88 L545.57,209.6 L545.69,208.3 L545.74,207 L545.74,205.69 L545.69,204.39 L545.6,203.1 L545.45,201.8 L545.25,200.49 L544.98,199.17 L544.67,197.85 L544.31,196.55 L543.91,195.26 L543.47,194.01 L543,192.8 L542.51,191.63 L541.99,190.49 L541.43,189.38 L540.83,188.29 L540.19,187.22 L539.49,186.17 L538.73,185.13 L537.9,184.1 L537,183.07 L536.02,182.05 L534.97,181.03 L533.88,180.03 L532.74,179.06 L531.57,178.13 L530.39,177.24 L529.2,176.4 L527.99,175.61 L526.74,174.85 L525.45,174.14 L524.15,173.46 L522.83,172.82 L521.51,172.23 L520.2,171.69 L518.9,171.2 L517.61,170.77 L516.33,170.39 L515.04,170.06 L513.76,169.77 L512.47,169.53 L511.18,169.32 L509.89,169.15 L508.6,169 L507.3,168.87 L506,168.77 L504.7,168.7 L503.4,168.67 L502.1,168.68 L500.8,168.73 L499.5,168.84 L498.2,169 L496.9,169.23 L495.58,169.51 L494.26,169.85 L492.94,170.23 L491.64,170.65 L490.36,171.11 L489.11,171.6 L487.9,172.1 L486.71,172.63 L485.53,173.19 L484.36,173.79 L483.22,174.41 L482.13,175.07 L481.08,175.75 L480.1,176.46 L479.2,177.2 L478.37,177.95 L477.61,178.72 L476.91,179.5 L476.27,180.32 L475.67,181.18 L475.11,182.09 L474.59,183.06 L474.1,184.1 L473.63,185.23 L473.19,186.44 L472.79,187.71 L472.43,189.03 L472.12,190.39 L471.85,191.76 L471.65,193.14 L471.5,194.5 L471.44,195.94 L471.48,197.51 L471.59,199.13 L471.74,200.75 L471.91,202.29 L472.08,203.67 L472.22,204.83 L472.3,205.7"/>
</g>
<g font-family="Liberation Sans, sans-serif" font-size="16" fill="#FF0A0A">
<text transform="translate(534.8,96.2) rotate(15)">−0.025</text>
<text transform="translate(462.0,216.4) rotate(13)">−0.050</text>
</g>
<path d="M338.6,367.0 L338.6,24.5 L681.4,24.5 L681.4,367.0" fill="none" stroke="#2a2a2a" stroke-width="1.3"/>
<line x1="337.95000000000005" y1="367.0" x2="682.05" y2="367.0" stroke="#6e655d" stroke-width="1.3"/>
<rect x="408.5" y="32.2" width="268.6" height="29.4" fill="#fff" fill-opacity="0.82" stroke="#222" stroke-width="1.2"/>
<g stroke="#FF0000" stroke-width="2.3"><line x1="412.1" y1="47.6" x2="420" y2="47.6"/><line x1="423" y1="47.6" x2="431" y2="47.6"/><line x1="434" y1="47.6" x2="442" y2="47.6"/></g>
<text x="450.5" y="53.4" font-family="Liberation Sans, sans-serif" font-size="16.2" fill="#111" stroke="#111" stroke-width="0.25">Subsidence rate (mm per year)</text>
<defs><linearGradient id="cbar" x1="0" x2="1" y1="0" y2="0">
<stop offset="0" stop-color="#1A0C64"/>
<stop offset="0.02" stop-color="#1B1566"/>
<stop offset="0.13" stop-color="#223380"/>
<stop offset="0.26" stop-color="#2D5795"/>
<stop offset="0.38" stop-color="#3E729E"/>
<stop offset="0.5" stop-color="#5E8DA2"/>
<stop offset="0.62" stop-color="#84A09A"/>
<stop offset="0.75" stop-color="#B3AE98"/>
<stop offset="0.87" stop-color="#E6CBB6"/>
<stop offset="0.98" stop-color="#FCEAE6"/>
<stop offset="1" stop-color="#FEF2F2"/>
</linearGradient></defs>
<rect x="338.6" y="388.4" width="342.8" height="17" fill="url(#cbar)" stroke="#1a1a1a" stroke-width="1.2"/>
<g stroke="#3a3a3a" stroke-width="1.1">
<line x1="340.3" y1="405.4" x2="340.3" y2="413.6"/>
<line x1="425.5" y1="405.4" x2="425.5" y2="413.6"/>
<line x1="510.8" y1="405.4" x2="510.8" y2="413.6"/>
<line x1="596.0" y1="405.4" x2="596.0" y2="413.6"/>
<line x1="681.2" y1="405.4" x2="681.2" y2="413.6"/>
</g>
<g font-family="Liberation Sans, sans-serif" font-size="16" fill="#111" stroke="#111" stroke-width="0.25" text-anchor="middle">
<text x="340.3" y="433.6">−200</text>
<text x="425.5" y="433.6">−150</text>
<text x="510.8" y="433.6">−100</text>
<text x="596.0" y="433.6">−50</text>
<text x="681.2" y="433.6">0</text>
<text x="510.3" y="457.1" font-size="16.2">Present-day flexure (m)</text>
</g>
</svg>
</body></html>
